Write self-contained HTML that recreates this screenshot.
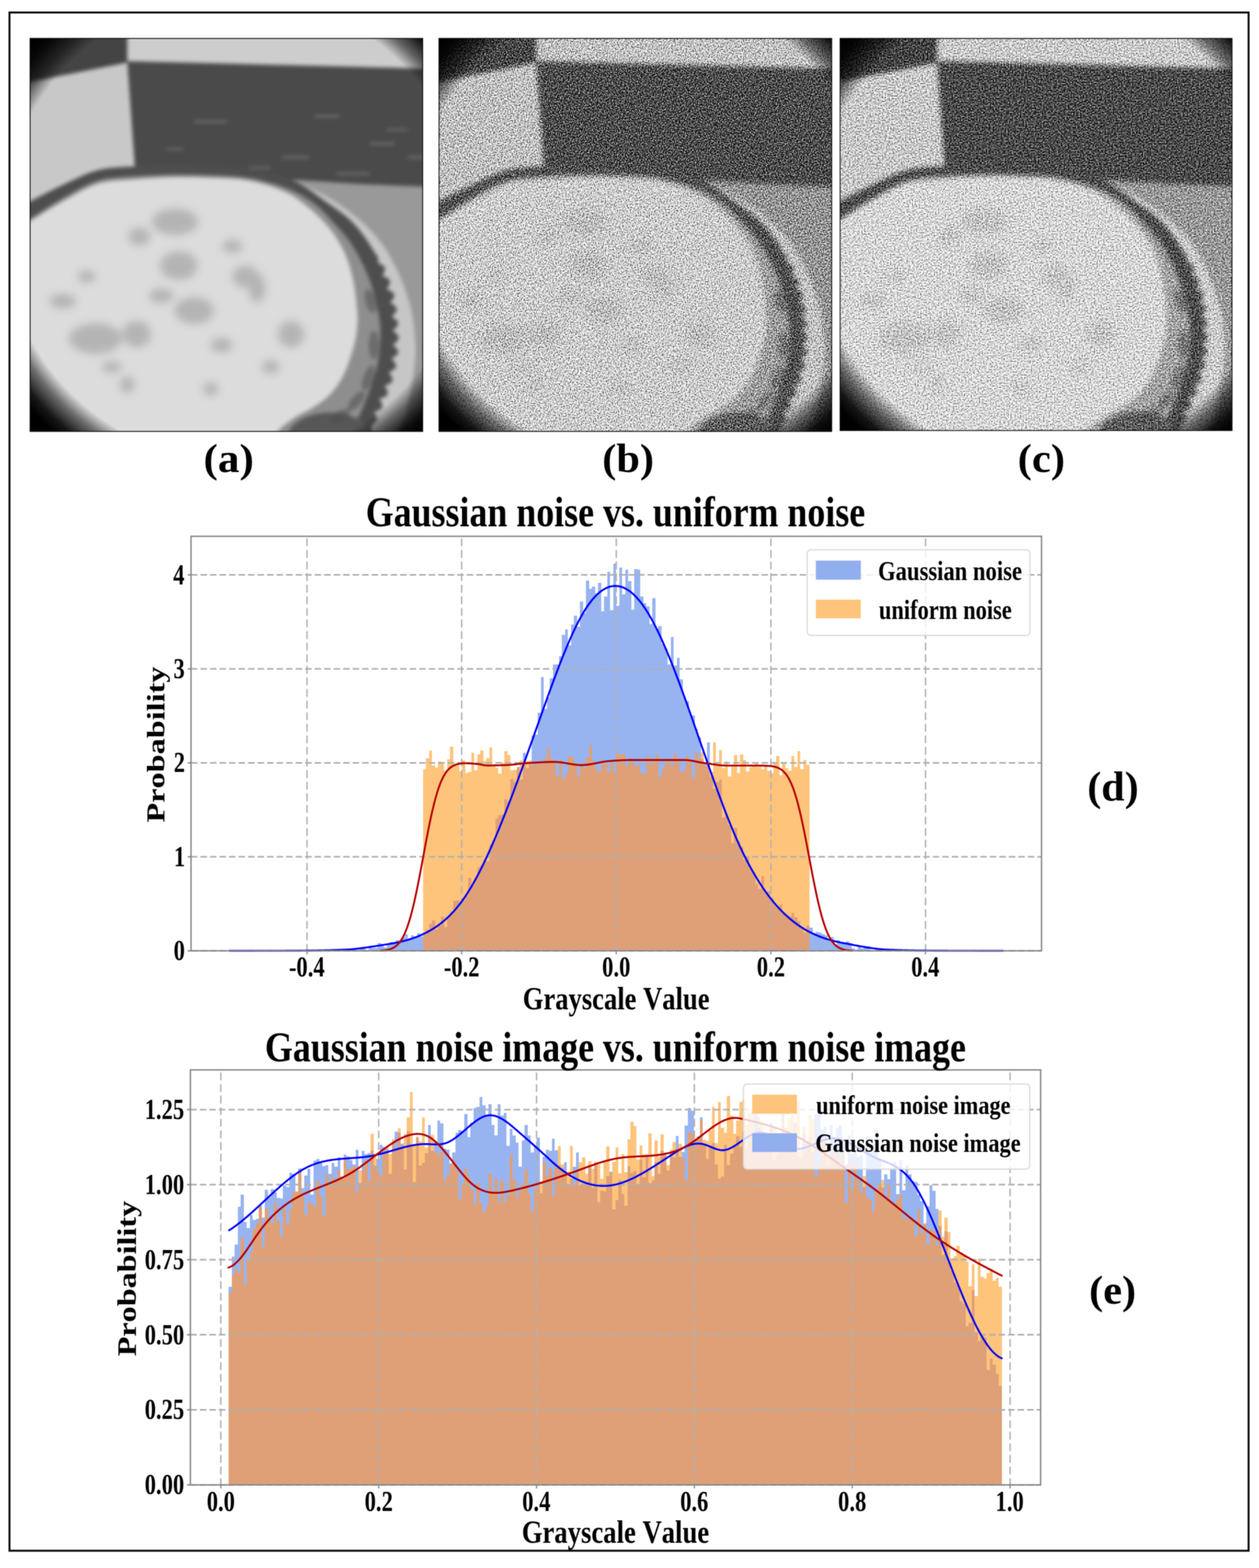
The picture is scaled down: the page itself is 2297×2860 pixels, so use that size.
<!DOCTYPE html><html><head><meta charset="utf-8"><title>Gaussian noise vs. uniform noise</title>
<style>html,body{margin:0;padding:0;background:#fff;width:2297px;height:2860px;overflow:hidden}svg{display:block}text{font-family:'Liberation Serif', 'Times New Roman', serif;fill:#000;font-kerning:none;font-variant-ligatures:none}</style></head><body>
<svg xmlns="http://www.w3.org/2000/svg" width="2297" height="2860" viewBox="0 0 2297 2860">
<defs>
<radialGradient id="vig" gradientUnits="userSpaceOnUse" cx="375" cy="345" r="500">
<stop offset="0" stop-color="#000" stop-opacity="0"/>
<stop offset="0.85" stop-color="#000" stop-opacity="0"/>
<stop offset="0.9" stop-color="#000" stop-opacity="0.5"/>
<stop offset="0.96" stop-color="#000" stop-opacity="0.9"/>
<stop offset="1" stop-color="#000" stop-opacity="1"/>
</radialGradient>
<filter id="blurA" x="-5%" y="-5%" width="110%" height="110%" color-interpolation-filters="sRGB">
<feGaussianBlur stdDeviation="3.5"/>
</filter>
<filter id="blotblur" x="-50%" y="-50%" width="200%" height="200%" color-interpolation-filters="sRGB">
<feGaussianBlur stdDeviation="7"/>
</filter>
<filter id="noiseB" x="-5%" y="-5%" width="110%" height="110%" color-interpolation-filters="sRGB">
<feGaussianBlur in="SourceGraphic" stdDeviation="4.5" result="bl"/>
<feTurbulence type="fractalNoise" baseFrequency="0.5" numOctaves="2" seed="3" result="t"/>
<feColorMatrix in="t" type="matrix" values="1 0 0 0 0 1 0 0 0 0 1 0 0 0 0 0 0 0 0 1" result="g"/>
<feComposite in="bl" in2="g" operator="arithmetic" k1="0" k2="1" k3="2.4" k4="-1.2"/>
</filter>
<filter id="noiseC" x="-5%" y="-5%" width="110%" height="110%" color-interpolation-filters="sRGB">
<feGaussianBlur in="SourceGraphic" stdDeviation="4.5" result="bl"/>
<feTurbulence type="fractalNoise" baseFrequency="0.4" numOctaves="2" seed="11" result="t"/>
<feColorMatrix in="t" type="matrix" values="1 0 0 0 0 1 0 0 0 0 1 0 0 0 0 0 0 0 0 1" result="g"/>
<feComposite in="bl" in2="g" operator="arithmetic" k1="0" k2="1" k3="1.6" k4="-0.8"/>
</filter>
<filter id="soft" x="0" y="0" width="2297" height="2860" filterUnits="userSpaceOnUse" color-interpolation-filters="sRGB">
<feConvolveMatrix order="3" kernelMatrix="1 2 1 2 4 2 1 2 1" divisor="16" edgeMode="duplicate"/>
</filter>
</defs>
<g filter="url(#soft)">
<rect width="2297" height="2860" fill="#fff"/>
<rect x="17.3" y="22.8" width="2260.7" height="2805.7" fill="none" stroke="#0a0a0a" stroke-width="3.6"/>
<g transform="translate(54.3 69.5) scale(0.99944 1.00000)">
<clipPath id="clippa"><rect x="0" y="0" width="718" height="718"/></clipPath>
<g clip-path="url(#clippa)">
<g filter="url(#blurA)">
<rect x="-30" y="-30" width="780" height="780" fill="#999999"/>
<path d="M-30 -30 L200 -30 L181 44 L0 80 L-30 86Z" fill="#444444"/>
<path d="M-30 86 L0 80 L181 44 L194 240 L0 312 L-30 322Z" fill="#c8c8c8"/>
<path d="M178 -30 L750 -30 L750 60 L700 57 L178 43Z" fill="#cdcdcd"/>
<path d="M178 42 L700 55 L750 58 L750 272 L600 266 L477 258 L192 238Z" fill="#4a4a4a"/>
<rect x="300" y="150" width="60" height="5" fill="#6a6a6a"/>
<rect x="460" y="215" width="50" height="5" fill="#6a6a6a"/>
<rect x="620" y="190" width="45" height="5" fill="#6a6a6a"/>
<rect x="690" y="215" width="40" height="5" fill="#6a6a6a"/>
<rect x="520" y="140" width="45" height="5" fill="#6a6a6a"/>
<rect x="560" y="245" width="60" height="5" fill="#6a6a6a"/>
<rect x="400" y="235" width="40" height="4" fill="#6a6a6a"/>
<rect x="650" y="165" width="40" height="4" fill="#6a6a6a"/>
<rect x="250" y="200" width="30" height="4" fill="#6a6a6a"/>
<path d="M470 256 C481.67 261.33 518.33 275.67 540 288 C561.67 300.33 582.5 315 600 330 C617.5 345 632 359.67 645 378 C658 396.33 669.33 419.67 678 440 C686.67 460.33 692.67 480.67 697 500 C701.33 519.33 703 540.33 704 556 C705 571.67 704.33 580 703 594 C701.67 608 698.83 624.33 696 640 C693.17 655.67 690 675 686 688 C682 701 675.5 708.5 672 718 C668.5 727.5 666.17 740.5 665 745 L300 760 L300 256Z" fill="#c6c6c6"/>
<path d="M-10 302 L-9.79 301.92 L-9.63 301.88 L-9.52 301.87 L-9.44 301.87 L-9.38 301.89 L-9.31 301.91 L-9.23 301.93 L-9.12 301.94 L-8.96 301.92 L-8.75 301.88 L-8.46 301.79 L-8.08 301.66 L-7.59 301.48 L-6.99 301.24 L-6.25 300.92 L-5.36 300.53 L-4.3 300.05 L-3.07 299.47 L-1.64 298.79 L0 298 L1.87 297.08 L3.96 296.04 L6.25 294.88 L8.74 293.62 L11.39 292.26 L14.2 290.82 L17.14 289.3 L20.21 287.73 L23.37 286.1 L26.62 284.44 L29.94 282.74 L33.31 281.03 L36.71 279.31 L40.13 277.6 L43.55 275.9 L46.94 274.22 L50.31 272.59 L53.61 271 L56.85 269.46 L60 268 L63.11 266.56 L66.23 265.09 L69.36 263.6 L72.51 262.09 L75.67 260.57 L78.84 259.05 L82.02 257.53 L85.22 256.02 L88.42 254.53 L91.62 253.06 L94.84 251.62 L98.06 250.22 L101.29 248.85 L104.53 247.54 L107.77 246.27 L111.01 245.07 L114.25 243.94 L117.5 242.88 L120.75 241.9 L124 241 L127.25 240.19 L130.5 239.47 L133.75 238.82 L137.01 238.24 L140.27 237.73 L143.53 237.27 L146.79 236.87 L150.06 236.52 L153.34 236.21 L156.62 235.94 L159.92 235.7 L163.22 235.48 L166.52 235.28 L169.84 235.1 L173.17 234.93 L176.51 234.76 L179.86 234.59 L183.23 234.41 L186.61 234.21 L190 234 L193.41 233.78 L196.84 233.58 L200.28 233.39 L203.74 233.22 L207.22 233.05 L210.71 232.91 L214.2 232.77 L217.71 232.65 L221.23 232.54 L224.75 232.44 L228.28 232.35 L231.81 232.27 L235.34 232.21 L238.87 232.15 L242.41 232.1 L245.94 232.06 L249.46 232.04 L252.98 232.02 L256.5 232 L260 232 L263.5 232 L267 232.02 L270.5 232.04 L274 232.08 L277.5 232.12 L281 232.18 L284.5 232.25 L288 232.32 L291.5 232.41 L295 232.5 L298.5 232.6 L302 232.72 L305.5 232.84 L309 232.98 L312.5 233.12 L316 233.28 L319.5 233.44 L323 233.62 L326.5 233.81 L330 234 L333.49 234.2 L336.97 234.38 L340.43 234.57 L343.89 234.75 L347.34 234.94 L350.78 235.13 L354.22 235.33 L357.66 235.54 L361.11 235.76 L364.56 236 L368.02 236.26 L371.5 236.54 L374.98 236.85 L378.49 237.19 L382.01 237.56 L385.55 237.97 L389.12 238.41 L392.72 238.9 L396.34 239.42 L400 240 L403.71 240.6 L407.48 241.21 L411.3 241.84 L415.18 242.48 L419.09 243.14 L423.03 243.82 L426.99 244.54 L430.97 245.28 L434.95 246.06 L438.94 246.88 L442.91 247.73 L446.87 248.64 L450.81 249.6 L454.71 250.61 L458.57 251.67 L462.38 252.8 L466.14 253.99 L469.84 255.26 L473.46 256.59 L477 258 L480.48 259.5 L483.92 261.1 L487.31 262.8 L490.67 264.58 L493.99 266.43 L497.28 268.35 L500.52 270.33 L503.74 272.37 L506.92 274.45 L510.06 276.56 L513.18 278.71 L516.26 280.87 L519.32 283.05 L522.35 285.23 L525.35 287.41 L528.33 289.58 L531.28 291.74 L534.21 293.86 L537.11 295.95 L540 298 L542.86 300.01 L545.7 301.99 L548.51 303.94 L551.3 305.88 L554.05 307.8 L556.79 309.72 L559.49 311.64 L562.17 313.56 L564.82 315.49 L567.44 317.44 L570.03 319.41 L572.59 321.4 L575.13 323.43 L577.63 325.49 L580.1 327.6 L582.54 329.76 L584.96 331.97 L587.34 334.25 L589.68 336.59 L592 339 L594.29 341.48 L596.55 344.01 L598.78 346.6 L600.99 349.23 L603.17 351.91 L605.32 354.64 L607.44 357.41 L609.54 360.22 L611.6 363.06 L613.62 365.94 L615.62 368.85 L617.58 371.78 L619.51 374.75 L621.41 377.73 L623.27 380.74 L625.09 383.77 L626.87 386.81 L628.62 389.86 L630.7 392.72 L632.97 395.48 L634.91 398.46 L636.01 401.95 L635.87 406.05 L636.02 410.01 L640.23 412.17 L644.47 414.42 L647.75 417.16 L648.72 420.87 L647.57 425.4 L644.96 430.4 L644.6 434.47 L650.1 436.34 L654.45 438.65 L657.09 441.54 L657.82 445.03 L656.82 449 L654.52 453.27 L651.55 457.59 L655.18 459.72 L659.39 461.58 L662.62 463.7 L664.66 466.1 L665.48 468.76 L665.17 471.6 L663.91 474.54 L661.93 477.49 L659.48 480.39 L657.89 483.01 L661.22 484.75 L664.22 486.58 L666.71 488.52 L668.56 490.55 L669.68 492.69 L670.02 494.9 L669.57 497.2 L668.38 499.57 L666.54 502.01 L664.19 504.52 L661.48 507.11 L662.41 509.37 L665.63 511.42 L668.45 513.56 L670.65 515.8 L672.05 518.14 L672.53 520.57 L672.06 523.06 L670.7 525.61 L668.56 528.18 L665.86 530.74 L662.83 533.27 L664.93 535.57 L667.94 537.85 L670.46 540.16 L672.31 542.49 L673.35 544.83 L673.54 547.15 L672.89 549.45 L671.49 551.7 L669.47 553.88 L667.01 555.98 L664.28 557.99 L663.27 559.98 L665.81 562.09 L668.08 564.2 L669.97 566.29 L671.39 568.35 L672.26 570.37 L672.57 572.34 L672.29 574.25 L671.45 576.07 L670.1 577.82 L668.29 579.48 L666.1 581.06 L663.63 582.57 L660.99 584.02 L661.41 585.93 L663.48 588.14 L665.34 590.36 L666.89 592.57 L668.02 594.74 L668.62 596.86 L668.65 598.89 L668.06 600.79 L666.88 602.57 L665.15 604.21 L662.94 605.72 L660.34 607.1 L657.48 608.4 L655.23 609.82 L657.23 612.34 L659.04 614.86 L660.55 617.33 L661.64 619.71 L662.21 621.97 L662.2 624.06 L661.58 625.98 L660.35 627.71 L658.55 629.26 L656.25 630.63 L653.54 631.85 L650.54 632.93 L647.65 634 L649.47 636.78 L651.11 639.55 L652.42 642.25 L653.29 644.81 L653.61 647.18 L653.33 649.32 L652.41 651.19 L650.87 652.8 L648.75 654.16 L646.15 655.31 L643.17 656.3 L639.95 657.2 L638.63 658.89 L640.3 661.79 L641.77 664.59 L642.92 667.21 L643.63 669.63 L643.83 671.82 L643.45 673.81 L642.46 675.57 L640.9 677.11 L638.83 678.45 L636.31 679.61 L633.47 680.64 L630.41 681.6 L629.24 683.27 L630.94 686 L632.46 688.64 L633.66 691.15 L634.23 693.41 L634.21 695.44 L633.65 697.27 L632.61 698.95 L631.22 700.51 L629.61 702.01 L627.89 703.51 L626.22 705.04 L624.71 706.64 L623.59 708.42 L624.21 710.74 L624.47 713.01 L624.32 715.23 L623.82 717.4 L623.06 719.54 L622.51 721.74 L622.06 723.95 L621.61 726.15 L621.19 728.31 L620.78 730.43 L620.38 732.49 L620.01 734.47 L619.65 736.36 L619.32 738.15 L619.01 739.82 L618.72 741.35 L618.45 742.73 L618.21 743.96 L618 745 L-30 760Z" fill="#4e4e4e"/>
<path d="M-10 334 C-8.33 333.33 -11.67 337 0 330 C11.67 323 39.33 303.67 60 292 C80.67 280.33 102.33 266.67 124 260 C145.67 253.33 167.33 253.83 190 252 C212.67 250.17 236.67 249.33 260 249 C283.33 248.67 306.67 249 330 250 C353.33 251 376.67 251 400 255 C423.33 259 450 266.17 470 274 C490 281.83 505.67 291.33 520 302 C534.33 312.67 544.33 325 556 338 C567.67 351 579.33 363 590 380 C600.67 397 612.33 420 620 440 C627.67 460 632.67 483.33 636 500 C639.33 516.67 640.17 524.33 640 540 C639.83 555.67 638.17 577.33 635 594 C631.83 610.67 626.5 624.33 621 640 C615.5 655.67 607.83 675 602 688 C596.17 701 590 708.5 586 718 C582 727.5 579.33 740.5 578 745 L-30 760Z" fill="#8e8e8e"/>
<ellipse cx="548" cy="735" rx="80" ry="52" fill="#575757"/>
<ellipse cx="622" cy="480" rx="9" ry="22" transform="rotate(-15 622 480)" fill="#4e4e4e" opacity="0.55"/>
<ellipse cx="628" cy="560" rx="9" ry="26" transform="rotate(0 628 560)" fill="#4e4e4e" opacity="0.55"/>
<ellipse cx="618" cy="620" rx="9" ry="24" transform="rotate(20 618 620)" fill="#4e4e4e" opacity="0.55"/>
<ellipse cx="596" cy="662" rx="9" ry="22" transform="rotate(40 596 662)" fill="#4e4e4e" opacity="0.55"/>
<ellipse cx="566" cy="690" rx="10" ry="20" transform="rotate(60 566 690)" fill="#4e4e4e" opacity="0.55"/>
<path d="M-10 338 C-8.33 337.33 -11.67 340.67 0 334 C11.67 327.33 39.33 309.33 60 298 C80.67 286.67 102.33 272.67 124 266 C145.67 259.33 167.33 260 190 258 C212.67 256 236.67 254.5 260 254 C283.33 253.5 306.67 254 330 255 C353.33 256 377.5 255.83 400 260 C422.5 264.17 446.67 271.67 465 280 C483.33 288.33 496.17 298.67 510 310 C523.83 321.33 537.17 334.33 548 348 C558.83 361.67 568 376.67 575 392 C582 407.33 586.33 423.67 590 440 C593.67 456.33 595.67 476.33 597 490 C598.33 503.67 598.83 510.33 598 522 C597.17 533.67 596 545 592 560 C588 575 581.33 597 574 612 C566.67 627 557.83 639.5 548 650 C538.17 660.5 525.67 668 515 675 C504.33 682 494.5 684.83 484 692 C473.5 699.17 459.33 709.17 452 718 C444.67 726.83 442 740.5 440 745 L-30 760Z" fill="#dcdcdc"/>
<g filter="url(#blotblur)">
<ellipse cx="265" cy="335" rx="42" ry="24" fill="#b4b4b4"/>
<ellipse cx="200" cy="362" rx="20" ry="16" fill="#b4b4b4"/>
<ellipse cx="272" cy="415" rx="34" ry="26" fill="#b4b4b4"/>
<ellipse cx="104" cy="435" rx="16" ry="11" fill="#b4b4b4"/>
<ellipse cx="394" cy="435" rx="24" ry="20" fill="#b4b4b4"/>
<ellipse cx="120" cy="548" rx="48" ry="28" fill="#b4b4b4"/>
<ellipse cx="195" cy="540" rx="26" ry="24" fill="#b4b4b4"/>
<ellipse cx="300" cy="497" rx="36" ry="24" fill="#b4b4b4"/>
<ellipse cx="415" cy="456" rx="15" ry="26" fill="#b4b4b4"/>
<ellipse cx="477" cy="540" rx="24" ry="24" fill="#b4b4b4"/>
<ellipse cx="178" cy="632" rx="13" ry="15" fill="#b4b4b4"/>
<ellipse cx="60" cy="480" rx="24" ry="13" fill="#b4b4b4"/>
<ellipse cx="350" cy="560" rx="20" ry="13" fill="#b4b4b4"/>
<ellipse cx="240" cy="470" rx="22" ry="13" fill="#b4b4b4"/>
<ellipse cx="330" cy="640" rx="14" ry="12" fill="#b4b4b4"/>
<ellipse cx="150" cy="600" rx="18" ry="10" fill="#b4b4b4"/>
<ellipse cx="440" cy="600" rx="16" ry="12" fill="#b4b4b4"/>
<ellipse cx="370" cy="380" rx="18" ry="12" fill="#b4b4b4"/>
</g>
</g>
<rect x="0" y="0" width="718" height="718" fill="url(#vig)"/>
</g>
<rect x="0.7" y="0.7" width="716.6" height="716.6" fill="none" stroke="#111" stroke-width="1.6"/>
</g>
<g transform="translate(800.3 69.5) scale(0.99972 1.00000)">
<clipPath id="clippb"><rect x="0" y="0" width="718" height="718"/></clipPath>
<g clip-path="url(#clippb)">
<g filter="url(#noiseB)">
<rect x="-30" y="-30" width="780" height="780" fill="#959595"/>
<path d="M-30 -30 L200 -30 L181 44 L0 80 L-30 86Z" fill="#404040"/>
<path d="M-30 86 L0 80 L181 44 L194 240 L0 312 L-30 322Z" fill="#c8c8c8"/>
<path d="M178 -30 L750 -30 L750 60 L700 57 L178 43Z" fill="#cacaca"/>
<path d="M178 42 L700 55 L750 58 L750 272 L600 266 L477 258 L192 238Z" fill="#474747"/>
<rect x="300" y="150" width="60" height="5" fill="#505050"/>
<rect x="460" y="215" width="50" height="5" fill="#505050"/>
<rect x="620" y="190" width="45" height="5" fill="#505050"/>
<rect x="690" y="215" width="40" height="5" fill="#505050"/>
<rect x="520" y="140" width="45" height="5" fill="#505050"/>
<rect x="560" y="245" width="60" height="5" fill="#505050"/>
<rect x="400" y="235" width="40" height="4" fill="#505050"/>
<rect x="650" y="165" width="40" height="4" fill="#505050"/>
<rect x="250" y="200" width="30" height="4" fill="#505050"/>
<path d="M470 256 C481.67 261.33 518.33 275.67 540 288 C561.67 300.33 582.5 315 600 330 C617.5 345 632 359.67 645 378 C658 396.33 669.33 419.67 678 440 C686.67 460.33 692.67 480.67 697 500 C701.33 519.33 703 540.33 704 556 C705 571.67 704.33 580 703 594 C701.67 608 698.83 624.33 696 640 C693.17 655.67 690 675 686 688 C682 701 675.5 708.5 672 718 C668.5 727.5 666.17 740.5 665 745 L300 760 L300 256Z" fill="#cdcdcd"/>
<path d="M-10 302 L-9.79 301.92 L-9.63 301.88 L-9.52 301.87 L-9.44 301.87 L-9.38 301.89 L-9.31 301.91 L-9.23 301.93 L-9.12 301.94 L-8.96 301.92 L-8.75 301.88 L-8.46 301.79 L-8.08 301.66 L-7.59 301.48 L-6.99 301.24 L-6.25 300.92 L-5.36 300.53 L-4.3 300.05 L-3.07 299.47 L-1.64 298.79 L0 298 L1.87 297.08 L3.96 296.04 L6.25 294.88 L8.74 293.62 L11.39 292.26 L14.2 290.82 L17.14 289.3 L20.21 287.73 L23.37 286.1 L26.62 284.44 L29.94 282.74 L33.31 281.03 L36.71 279.31 L40.13 277.6 L43.55 275.9 L46.94 274.22 L50.31 272.59 L53.61 271 L56.85 269.46 L60 268 L63.11 266.56 L66.23 265.09 L69.36 263.6 L72.51 262.09 L75.67 260.57 L78.84 259.05 L82.02 257.53 L85.22 256.02 L88.42 254.53 L91.62 253.06 L94.84 251.62 L98.06 250.22 L101.29 248.85 L104.53 247.54 L107.77 246.27 L111.01 245.07 L114.25 243.94 L117.5 242.88 L120.75 241.9 L124 241 L127.25 240.19 L130.5 239.47 L133.75 238.82 L137.01 238.24 L140.27 237.73 L143.53 237.27 L146.79 236.87 L150.06 236.52 L153.34 236.21 L156.62 235.94 L159.92 235.7 L163.22 235.48 L166.52 235.28 L169.84 235.1 L173.17 234.93 L176.51 234.76 L179.86 234.59 L183.23 234.41 L186.61 234.21 L190 234 L193.41 233.78 L196.84 233.58 L200.28 233.39 L203.74 233.22 L207.22 233.05 L210.71 232.91 L214.2 232.77 L217.71 232.65 L221.23 232.54 L224.75 232.44 L228.28 232.35 L231.81 232.27 L235.34 232.21 L238.87 232.15 L242.41 232.1 L245.94 232.06 L249.46 232.04 L252.98 232.02 L256.5 232 L260 232 L263.5 232 L267 232.02 L270.5 232.04 L274 232.08 L277.5 232.12 L281 232.18 L284.5 232.25 L288 232.32 L291.5 232.41 L295 232.5 L298.5 232.6 L302 232.72 L305.5 232.84 L309 232.98 L312.5 233.12 L316 233.28 L319.5 233.44 L323 233.62 L326.5 233.81 L330 234 L333.49 234.2 L336.97 234.38 L340.43 234.57 L343.89 234.75 L347.34 234.94 L350.78 235.13 L354.22 235.33 L357.66 235.54 L361.11 235.76 L364.56 236 L368.02 236.26 L371.5 236.54 L374.98 236.85 L378.49 237.19 L382.01 237.56 L385.55 237.97 L389.12 238.41 L392.72 238.9 L396.34 239.42 L400 240 L403.71 240.6 L407.48 241.21 L411.3 241.84 L415.18 242.48 L419.09 243.14 L423.03 243.82 L426.99 244.54 L430.97 245.28 L434.95 246.06 L438.94 246.88 L442.91 247.73 L446.87 248.64 L450.81 249.6 L454.71 250.61 L458.57 251.67 L462.38 252.8 L466.14 253.99 L469.84 255.26 L473.46 256.59 L477 258 L480.48 259.5 L483.92 261.1 L487.31 262.8 L490.67 264.58 L493.99 266.43 L497.28 268.35 L500.52 270.33 L503.74 272.37 L506.92 274.45 L510.06 276.56 L513.18 278.71 L516.26 280.87 L519.32 283.05 L522.35 285.23 L525.35 287.41 L528.33 289.58 L531.28 291.74 L534.21 293.86 L537.11 295.95 L540 298 L542.86 300.01 L545.7 301.99 L548.51 303.94 L551.3 305.88 L554.05 307.8 L556.79 309.72 L559.49 311.64 L562.17 313.56 L564.82 315.49 L567.44 317.44 L570.03 319.41 L572.59 321.4 L575.13 323.43 L577.63 325.49 L580.1 327.6 L582.54 329.76 L584.96 331.97 L587.34 334.25 L589.68 336.59 L592 339 L594.29 341.48 L596.55 344.01 L598.78 346.6 L600.99 349.23 L603.17 351.91 L605.32 354.64 L607.44 357.41 L609.54 360.22 L611.6 363.06 L613.62 365.94 L615.62 368.85 L617.58 371.78 L619.51 374.75 L621.41 377.73 L623.27 380.74 L625.09 383.77 L626.87 386.81 L628.62 389.86 L630.7 392.72 L632.97 395.48 L634.91 398.46 L636.01 401.95 L635.87 406.05 L636.02 410.01 L640.23 412.17 L644.47 414.42 L647.75 417.16 L648.72 420.87 L647.57 425.4 L644.96 430.4 L644.6 434.47 L650.1 436.34 L654.45 438.65 L657.09 441.54 L657.82 445.03 L656.82 449 L654.52 453.27 L651.55 457.59 L655.18 459.72 L659.39 461.58 L662.62 463.7 L664.66 466.1 L665.48 468.76 L665.17 471.6 L663.91 474.54 L661.93 477.49 L659.48 480.39 L657.89 483.01 L661.22 484.75 L664.22 486.58 L666.71 488.52 L668.56 490.55 L669.68 492.69 L670.02 494.9 L669.57 497.2 L668.38 499.57 L666.54 502.01 L664.19 504.52 L661.48 507.11 L662.41 509.37 L665.63 511.42 L668.45 513.56 L670.65 515.8 L672.05 518.14 L672.53 520.57 L672.06 523.06 L670.7 525.61 L668.56 528.18 L665.86 530.74 L662.83 533.27 L664.93 535.57 L667.94 537.85 L670.46 540.16 L672.31 542.49 L673.35 544.83 L673.54 547.15 L672.89 549.45 L671.49 551.7 L669.47 553.88 L667.01 555.98 L664.28 557.99 L663.27 559.98 L665.81 562.09 L668.08 564.2 L669.97 566.29 L671.39 568.35 L672.26 570.37 L672.57 572.34 L672.29 574.25 L671.45 576.07 L670.1 577.82 L668.29 579.48 L666.1 581.06 L663.63 582.57 L660.99 584.02 L661.41 585.93 L663.48 588.14 L665.34 590.36 L666.89 592.57 L668.02 594.74 L668.62 596.86 L668.65 598.89 L668.06 600.79 L666.88 602.57 L665.15 604.21 L662.94 605.72 L660.34 607.1 L657.48 608.4 L655.23 609.82 L657.23 612.34 L659.04 614.86 L660.55 617.33 L661.64 619.71 L662.21 621.97 L662.2 624.06 L661.58 625.98 L660.35 627.71 L658.55 629.26 L656.25 630.63 L653.54 631.85 L650.54 632.93 L647.65 634 L649.47 636.78 L651.11 639.55 L652.42 642.25 L653.29 644.81 L653.61 647.18 L653.33 649.32 L652.41 651.19 L650.87 652.8 L648.75 654.16 L646.15 655.31 L643.17 656.3 L639.95 657.2 L638.63 658.89 L640.3 661.79 L641.77 664.59 L642.92 667.21 L643.63 669.63 L643.83 671.82 L643.45 673.81 L642.46 675.57 L640.9 677.11 L638.83 678.45 L636.31 679.61 L633.47 680.64 L630.41 681.6 L629.24 683.27 L630.94 686 L632.46 688.64 L633.66 691.15 L634.23 693.41 L634.21 695.44 L633.65 697.27 L632.61 698.95 L631.22 700.51 L629.61 702.01 L627.89 703.51 L626.22 705.04 L624.71 706.64 L623.59 708.42 L624.21 710.74 L624.47 713.01 L624.32 715.23 L623.82 717.4 L623.06 719.54 L622.51 721.74 L622.06 723.95 L621.61 726.15 L621.19 728.31 L620.78 730.43 L620.38 732.49 L620.01 734.47 L619.65 736.36 L619.32 738.15 L619.01 739.82 L618.72 741.35 L618.45 742.73 L618.21 743.96 L618 745 L-30 760Z" fill="#4a4a4a"/>
<path d="M-10 334 C-8.33 333.33 -11.67 337 0 330 C11.67 323 39.33 303.67 60 292 C80.67 280.33 102.33 266.67 124 260 C145.67 253.33 167.33 253.83 190 252 C212.67 250.17 236.67 249.33 260 249 C283.33 248.67 306.67 249 330 250 C353.33 251 376.67 251 400 255 C423.33 259 450 266.17 470 274 C490 281.83 505.67 291.33 520 302 C534.33 312.67 544.33 325 556 338 C567.67 351 579.33 363 590 380 C600.67 397 612.33 420 620 440 C627.67 460 632.67 483.33 636 500 C639.33 516.67 640.17 524.33 640 540 C639.83 555.67 638.17 577.33 635 594 C631.83 610.67 626.5 624.33 621 640 C615.5 655.67 607.83 675 602 688 C596.17 701 590 708.5 586 718 C582 727.5 579.33 740.5 578 745 L-30 760Z" fill="#a0a0a0"/>
<ellipse cx="548" cy="735" rx="80" ry="52" fill="#5a5a5a"/>
<ellipse cx="622" cy="480" rx="9" ry="22" transform="rotate(-15 622 480)" fill="#4a4a4a" opacity="0.55"/>
<ellipse cx="628" cy="560" rx="9" ry="26" transform="rotate(0 628 560)" fill="#4a4a4a" opacity="0.55"/>
<ellipse cx="618" cy="620" rx="9" ry="24" transform="rotate(20 618 620)" fill="#4a4a4a" opacity="0.55"/>
<ellipse cx="596" cy="662" rx="9" ry="22" transform="rotate(40 596 662)" fill="#4a4a4a" opacity="0.55"/>
<ellipse cx="566" cy="690" rx="10" ry="20" transform="rotate(60 566 690)" fill="#4a4a4a" opacity="0.55"/>
<path d="M-10 338 C-8.33 337.33 -11.67 340.67 0 334 C11.67 327.33 39.33 309.33 60 298 C80.67 286.67 102.33 272.67 124 266 C145.67 259.33 167.33 260 190 258 C212.67 256 236.67 254.5 260 254 C283.33 253.5 306.67 254 330 255 C353.33 256 377.5 255.83 400 260 C422.5 264.17 446.67 271.67 465 280 C483.33 288.33 496.17 298.67 510 310 C523.83 321.33 537.17 334.33 548 348 C558.83 361.67 568 376.67 575 392 C582 407.33 586.33 423.67 590 440 C593.67 456.33 595.67 476.33 597 490 C598.33 503.67 598.83 510.33 598 522 C597.17 533.67 596 545 592 560 C588 575 581.33 597 574 612 C566.67 627 557.83 639.5 548 650 C538.17 660.5 525.67 668 515 675 C504.33 682 494.5 684.83 484 692 C473.5 699.17 459.33 709.17 452 718 C444.67 726.83 442 740.5 440 745 L-30 760Z" fill="#d8d8d8"/>
<g filter="url(#blotblur)">
<ellipse cx="265" cy="335" rx="42" ry="24" fill="#c4c4c4"/>
<ellipse cx="200" cy="362" rx="20" ry="16" fill="#c4c4c4"/>
<ellipse cx="272" cy="415" rx="34" ry="26" fill="#c4c4c4"/>
<ellipse cx="104" cy="435" rx="16" ry="11" fill="#c4c4c4"/>
<ellipse cx="394" cy="435" rx="24" ry="20" fill="#c4c4c4"/>
<ellipse cx="120" cy="548" rx="48" ry="28" fill="#c4c4c4"/>
<ellipse cx="195" cy="540" rx="26" ry="24" fill="#c4c4c4"/>
<ellipse cx="300" cy="497" rx="36" ry="24" fill="#c4c4c4"/>
<ellipse cx="415" cy="456" rx="15" ry="26" fill="#c4c4c4"/>
<ellipse cx="477" cy="540" rx="24" ry="24" fill="#c4c4c4"/>
<ellipse cx="178" cy="632" rx="13" ry="15" fill="#c4c4c4"/>
<ellipse cx="60" cy="480" rx="24" ry="13" fill="#c4c4c4"/>
<ellipse cx="350" cy="560" rx="20" ry="13" fill="#c4c4c4"/>
<ellipse cx="240" cy="470" rx="22" ry="13" fill="#c4c4c4"/>
<ellipse cx="330" cy="640" rx="14" ry="12" fill="#c4c4c4"/>
<ellipse cx="150" cy="600" rx="18" ry="10" fill="#c4c4c4"/>
<ellipse cx="440" cy="600" rx="16" ry="12" fill="#c4c4c4"/>
<ellipse cx="370" cy="380" rx="18" ry="12" fill="#c4c4c4"/>
</g>
</g>
<rect x="0" y="0" width="718" height="718" fill="url(#vig)"/>
</g>
<rect x="0.7" y="0.7" width="716.6" height="716.6" fill="none" stroke="#111" stroke-width="1.6"/>
</g>
<g transform="translate(1532 69.5) scale(0.99777 0.99791)">
<clipPath id="clippc"><rect x="0" y="0" width="718" height="718"/></clipPath>
<g clip-path="url(#clippc)">
<g filter="url(#noiseC)">
<rect x="-30" y="-30" width="780" height="780" fill="#989898"/>
<path d="M-30 -30 L200 -30 L181 44 L0 80 L-30 86Z" fill="#424242"/>
<path d="M-30 86 L0 80 L181 44 L194 240 L0 312 L-30 322Z" fill="#cacaca"/>
<path d="M178 -30 L750 -30 L750 60 L700 57 L178 43Z" fill="#cccccc"/>
<path d="M178 42 L700 55 L750 58 L750 272 L600 266 L477 258 L192 238Z" fill="#4a4a4a"/>
<rect x="300" y="150" width="60" height="5" fill="#525252"/>
<rect x="460" y="215" width="50" height="5" fill="#525252"/>
<rect x="620" y="190" width="45" height="5" fill="#525252"/>
<rect x="690" y="215" width="40" height="5" fill="#525252"/>
<rect x="520" y="140" width="45" height="5" fill="#525252"/>
<rect x="560" y="245" width="60" height="5" fill="#525252"/>
<rect x="400" y="235" width="40" height="4" fill="#525252"/>
<rect x="650" y="165" width="40" height="4" fill="#525252"/>
<rect x="250" y="200" width="30" height="4" fill="#525252"/>
<path d="M470 256 C481.67 261.33 518.33 275.67 540 288 C561.67 300.33 582.5 315 600 330 C617.5 345 632 359.67 645 378 C658 396.33 669.33 419.67 678 440 C686.67 460.33 692.67 480.67 697 500 C701.33 519.33 703 540.33 704 556 C705 571.67 704.33 580 703 594 C701.67 608 698.83 624.33 696 640 C693.17 655.67 690 675 686 688 C682 701 675.5 708.5 672 718 C668.5 727.5 666.17 740.5 665 745 L300 760 L300 256Z" fill="#cfcfcf"/>
<path d="M-10 302 L-9.79 301.92 L-9.63 301.88 L-9.52 301.87 L-9.44 301.87 L-9.38 301.89 L-9.31 301.91 L-9.23 301.93 L-9.12 301.94 L-8.96 301.92 L-8.75 301.88 L-8.46 301.79 L-8.08 301.66 L-7.59 301.48 L-6.99 301.24 L-6.25 300.92 L-5.36 300.53 L-4.3 300.05 L-3.07 299.47 L-1.64 298.79 L0 298 L1.87 297.08 L3.96 296.04 L6.25 294.88 L8.74 293.62 L11.39 292.26 L14.2 290.82 L17.14 289.3 L20.21 287.73 L23.37 286.1 L26.62 284.44 L29.94 282.74 L33.31 281.03 L36.71 279.31 L40.13 277.6 L43.55 275.9 L46.94 274.22 L50.31 272.59 L53.61 271 L56.85 269.46 L60 268 L63.11 266.56 L66.23 265.09 L69.36 263.6 L72.51 262.09 L75.67 260.57 L78.84 259.05 L82.02 257.53 L85.22 256.02 L88.42 254.53 L91.62 253.06 L94.84 251.62 L98.06 250.22 L101.29 248.85 L104.53 247.54 L107.77 246.27 L111.01 245.07 L114.25 243.94 L117.5 242.88 L120.75 241.9 L124 241 L127.25 240.19 L130.5 239.47 L133.75 238.82 L137.01 238.24 L140.27 237.73 L143.53 237.27 L146.79 236.87 L150.06 236.52 L153.34 236.21 L156.62 235.94 L159.92 235.7 L163.22 235.48 L166.52 235.28 L169.84 235.1 L173.17 234.93 L176.51 234.76 L179.86 234.59 L183.23 234.41 L186.61 234.21 L190 234 L193.41 233.78 L196.84 233.58 L200.28 233.39 L203.74 233.22 L207.22 233.05 L210.71 232.91 L214.2 232.77 L217.71 232.65 L221.23 232.54 L224.75 232.44 L228.28 232.35 L231.81 232.27 L235.34 232.21 L238.87 232.15 L242.41 232.1 L245.94 232.06 L249.46 232.04 L252.98 232.02 L256.5 232 L260 232 L263.5 232 L267 232.02 L270.5 232.04 L274 232.08 L277.5 232.12 L281 232.18 L284.5 232.25 L288 232.32 L291.5 232.41 L295 232.5 L298.5 232.6 L302 232.72 L305.5 232.84 L309 232.98 L312.5 233.12 L316 233.28 L319.5 233.44 L323 233.62 L326.5 233.81 L330 234 L333.49 234.2 L336.97 234.38 L340.43 234.57 L343.89 234.75 L347.34 234.94 L350.78 235.13 L354.22 235.33 L357.66 235.54 L361.11 235.76 L364.56 236 L368.02 236.26 L371.5 236.54 L374.98 236.85 L378.49 237.19 L382.01 237.56 L385.55 237.97 L389.12 238.41 L392.72 238.9 L396.34 239.42 L400 240 L403.71 240.6 L407.48 241.21 L411.3 241.84 L415.18 242.48 L419.09 243.14 L423.03 243.82 L426.99 244.54 L430.97 245.28 L434.95 246.06 L438.94 246.88 L442.91 247.73 L446.87 248.64 L450.81 249.6 L454.71 250.61 L458.57 251.67 L462.38 252.8 L466.14 253.99 L469.84 255.26 L473.46 256.59 L477 258 L480.48 259.5 L483.92 261.1 L487.31 262.8 L490.67 264.58 L493.99 266.43 L497.28 268.35 L500.52 270.33 L503.74 272.37 L506.92 274.45 L510.06 276.56 L513.18 278.71 L516.26 280.87 L519.32 283.05 L522.35 285.23 L525.35 287.41 L528.33 289.58 L531.28 291.74 L534.21 293.86 L537.11 295.95 L540 298 L542.86 300.01 L545.7 301.99 L548.51 303.94 L551.3 305.88 L554.05 307.8 L556.79 309.72 L559.49 311.64 L562.17 313.56 L564.82 315.49 L567.44 317.44 L570.03 319.41 L572.59 321.4 L575.13 323.43 L577.63 325.49 L580.1 327.6 L582.54 329.76 L584.96 331.97 L587.34 334.25 L589.68 336.59 L592 339 L594.29 341.48 L596.55 344.01 L598.78 346.6 L600.99 349.23 L603.17 351.91 L605.32 354.64 L607.44 357.41 L609.54 360.22 L611.6 363.06 L613.62 365.94 L615.62 368.85 L617.58 371.78 L619.51 374.75 L621.41 377.73 L623.27 380.74 L625.09 383.77 L626.87 386.81 L628.62 389.86 L630.7 392.72 L632.97 395.48 L634.91 398.46 L636.01 401.95 L635.87 406.05 L636.02 410.01 L640.23 412.17 L644.47 414.42 L647.75 417.16 L648.72 420.87 L647.57 425.4 L644.96 430.4 L644.6 434.47 L650.1 436.34 L654.45 438.65 L657.09 441.54 L657.82 445.03 L656.82 449 L654.52 453.27 L651.55 457.59 L655.18 459.72 L659.39 461.58 L662.62 463.7 L664.66 466.1 L665.48 468.76 L665.17 471.6 L663.91 474.54 L661.93 477.49 L659.48 480.39 L657.89 483.01 L661.22 484.75 L664.22 486.58 L666.71 488.52 L668.56 490.55 L669.68 492.69 L670.02 494.9 L669.57 497.2 L668.38 499.57 L666.54 502.01 L664.19 504.52 L661.48 507.11 L662.41 509.37 L665.63 511.42 L668.45 513.56 L670.65 515.8 L672.05 518.14 L672.53 520.57 L672.06 523.06 L670.7 525.61 L668.56 528.18 L665.86 530.74 L662.83 533.27 L664.93 535.57 L667.94 537.85 L670.46 540.16 L672.31 542.49 L673.35 544.83 L673.54 547.15 L672.89 549.45 L671.49 551.7 L669.47 553.88 L667.01 555.98 L664.28 557.99 L663.27 559.98 L665.81 562.09 L668.08 564.2 L669.97 566.29 L671.39 568.35 L672.26 570.37 L672.57 572.34 L672.29 574.25 L671.45 576.07 L670.1 577.82 L668.29 579.48 L666.1 581.06 L663.63 582.57 L660.99 584.02 L661.41 585.93 L663.48 588.14 L665.34 590.36 L666.89 592.57 L668.02 594.74 L668.62 596.86 L668.65 598.89 L668.06 600.79 L666.88 602.57 L665.15 604.21 L662.94 605.72 L660.34 607.1 L657.48 608.4 L655.23 609.82 L657.23 612.34 L659.04 614.86 L660.55 617.33 L661.64 619.71 L662.21 621.97 L662.2 624.06 L661.58 625.98 L660.35 627.71 L658.55 629.26 L656.25 630.63 L653.54 631.85 L650.54 632.93 L647.65 634 L649.47 636.78 L651.11 639.55 L652.42 642.25 L653.29 644.81 L653.61 647.18 L653.33 649.32 L652.41 651.19 L650.87 652.8 L648.75 654.16 L646.15 655.31 L643.17 656.3 L639.95 657.2 L638.63 658.89 L640.3 661.79 L641.77 664.59 L642.92 667.21 L643.63 669.63 L643.83 671.82 L643.45 673.81 L642.46 675.57 L640.9 677.11 L638.83 678.45 L636.31 679.61 L633.47 680.64 L630.41 681.6 L629.24 683.27 L630.94 686 L632.46 688.64 L633.66 691.15 L634.23 693.41 L634.21 695.44 L633.65 697.27 L632.61 698.95 L631.22 700.51 L629.61 702.01 L627.89 703.51 L626.22 705.04 L624.71 706.64 L623.59 708.42 L624.21 710.74 L624.47 713.01 L624.32 715.23 L623.82 717.4 L623.06 719.54 L622.51 721.74 L622.06 723.95 L621.61 726.15 L621.19 728.31 L620.78 730.43 L620.38 732.49 L620.01 734.47 L619.65 736.36 L619.32 738.15 L619.01 739.82 L618.72 741.35 L618.45 742.73 L618.21 743.96 L618 745 L-30 760Z" fill="#4c4c4c"/>
<path d="M-10 334 C-8.33 333.33 -11.67 337 0 330 C11.67 323 39.33 303.67 60 292 C80.67 280.33 102.33 266.67 124 260 C145.67 253.33 167.33 253.83 190 252 C212.67 250.17 236.67 249.33 260 249 C283.33 248.67 306.67 249 330 250 C353.33 251 376.67 251 400 255 C423.33 259 450 266.17 470 274 C490 281.83 505.67 291.33 520 302 C534.33 312.67 544.33 325 556 338 C567.67 351 579.33 363 590 380 C600.67 397 612.33 420 620 440 C627.67 460 632.67 483.33 636 500 C639.33 516.67 640.17 524.33 640 540 C639.83 555.67 638.17 577.33 635 594 C631.83 610.67 626.5 624.33 621 640 C615.5 655.67 607.83 675 602 688 C596.17 701 590 708.5 586 718 C582 727.5 579.33 740.5 578 745 L-30 760Z" fill="#a2a2a2"/>
<ellipse cx="548" cy="735" rx="80" ry="52" fill="#5c5c5c"/>
<ellipse cx="622" cy="480" rx="9" ry="22" transform="rotate(-15 622 480)" fill="#4c4c4c" opacity="0.55"/>
<ellipse cx="628" cy="560" rx="9" ry="26" transform="rotate(0 628 560)" fill="#4c4c4c" opacity="0.55"/>
<ellipse cx="618" cy="620" rx="9" ry="24" transform="rotate(20 618 620)" fill="#4c4c4c" opacity="0.55"/>
<ellipse cx="596" cy="662" rx="9" ry="22" transform="rotate(40 596 662)" fill="#4c4c4c" opacity="0.55"/>
<ellipse cx="566" cy="690" rx="10" ry="20" transform="rotate(60 566 690)" fill="#4c4c4c" opacity="0.55"/>
<path d="M-10 338 C-8.33 337.33 -11.67 340.67 0 334 C11.67 327.33 39.33 309.33 60 298 C80.67 286.67 102.33 272.67 124 266 C145.67 259.33 167.33 260 190 258 C212.67 256 236.67 254.5 260 254 C283.33 253.5 306.67 254 330 255 C353.33 256 377.5 255.83 400 260 C422.5 264.17 446.67 271.67 465 280 C483.33 288.33 496.17 298.67 510 310 C523.83 321.33 537.17 334.33 548 348 C558.83 361.67 568 376.67 575 392 C582 407.33 586.33 423.67 590 440 C593.67 456.33 595.67 476.33 597 490 C598.33 503.67 598.83 510.33 598 522 C597.17 533.67 596 545 592 560 C588 575 581.33 597 574 612 C566.67 627 557.83 639.5 548 650 C538.17 660.5 525.67 668 515 675 C504.33 682 494.5 684.83 484 692 C473.5 699.17 459.33 709.17 452 718 C444.67 726.83 442 740.5 440 745 L-30 760Z" fill="#dadada"/>
<g filter="url(#blotblur)">
<ellipse cx="265" cy="335" rx="42" ry="24" fill="#c4c4c4"/>
<ellipse cx="200" cy="362" rx="20" ry="16" fill="#c4c4c4"/>
<ellipse cx="272" cy="415" rx="34" ry="26" fill="#c4c4c4"/>
<ellipse cx="104" cy="435" rx="16" ry="11" fill="#c4c4c4"/>
<ellipse cx="394" cy="435" rx="24" ry="20" fill="#c4c4c4"/>
<ellipse cx="120" cy="548" rx="48" ry="28" fill="#c4c4c4"/>
<ellipse cx="195" cy="540" rx="26" ry="24" fill="#c4c4c4"/>
<ellipse cx="300" cy="497" rx="36" ry="24" fill="#c4c4c4"/>
<ellipse cx="415" cy="456" rx="15" ry="26" fill="#c4c4c4"/>
<ellipse cx="477" cy="540" rx="24" ry="24" fill="#c4c4c4"/>
<ellipse cx="178" cy="632" rx="13" ry="15" fill="#c4c4c4"/>
<ellipse cx="60" cy="480" rx="24" ry="13" fill="#c4c4c4"/>
<ellipse cx="350" cy="560" rx="20" ry="13" fill="#c4c4c4"/>
<ellipse cx="240" cy="470" rx="22" ry="13" fill="#c4c4c4"/>
<ellipse cx="330" cy="640" rx="14" ry="12" fill="#c4c4c4"/>
<ellipse cx="150" cy="600" rx="18" ry="10" fill="#c4c4c4"/>
<ellipse cx="440" cy="600" rx="16" ry="12" fill="#c4c4c4"/>
<ellipse cx="370" cy="380" rx="18" ry="12" fill="#c4c4c4"/>
</g>
</g>
<rect x="0" y="0" width="718" height="718" fill="url(#vig)"/>
</g>
<rect x="0.7" y="0.7" width="716.6" height="716.6" fill="none" stroke="#111" stroke-width="1.6"/>
</g>
<text transform="translate(371.34 861.27) scale(1.0657 1)" font-size="73.89" text-anchor="start" font-weight="bold" >(a)</text>
<text transform="translate(1098.8 861.48) scale(1.0402 1)" font-size="74.33" text-anchor="start" font-weight="bold" >(b)</text>
<text transform="translate(1856.79 861.48) scale(1.0452 1)" font-size="74.33" text-anchor="start" font-weight="bold" >(c)</text>
<text transform="translate(1983.63 1459.81) scale(1.0224 1)" font-size="75.1" text-anchor="start" font-weight="bold" >(d)</text>
<text transform="translate(1987 2378.11) scale(1.0306 1)" font-size="75.1" text-anchor="start" font-weight="bold" >(e)</text>
<g id="plotd">
<path d="M771.7 1734.2H777.21V1701.8H771.7ZM777.21 1734.2H782.72V1696.02H777.21ZM782.72 1734.2H788.23V1684.7H782.72ZM788.23 1734.2H793.74V1679.18H788.23ZM793.74 1734.2H799.25V1694.84H793.74ZM799.25 1734.2H804.76V1687.51H799.25ZM804.76 1734.2H810.27V1672.25H804.76ZM810.27 1734.2H815.78V1691.43H810.27ZM815.78 1734.2H821.29V1672.28H815.78ZM821.29 1734.2H826.8V1662.75H821.29ZM826.8 1734.2H832.31V1643.17H826.8ZM832.31 1734.2H837.82V1642.25H832.31ZM837.82 1734.2H843.33V1646.54H837.82ZM843.33 1734.2H848.84V1640.86H843.33ZM848.84 1734.2H854.35V1633H848.84ZM854.35 1734.2H859.86V1601.2H854.35ZM859.86 1734.2H865.37V1613.91H859.86ZM865.37 1734.2H870.88V1601.73H865.37ZM870.88 1734.2H876.39V1582.23H870.88ZM876.39 1734.2H881.9V1577.88H876.39ZM881.9 1734.2H887.41V1568.25H881.9ZM887.41 1734.2H892.92V1570.62H887.41ZM892.92 1734.2H898.43V1540.24H892.92ZM898.43 1734.2H903.94V1533.26H898.43ZM903.94 1734.2H909.45V1492.89H903.94ZM909.45 1734.2H914.96V1487.14H909.45ZM914.96 1734.2H920.47V1484.8H914.96ZM920.47 1734.2H925.98V1458.38H920.47ZM925.98 1734.2H931.49V1462.49H925.98ZM931.49 1734.2H937V1420.98H931.49ZM937 1734.2H942.51V1425.97H937ZM942.51 1734.2H948.02V1399.03H942.51ZM948.02 1734.2H953.54V1421.99H948.02ZM953.54 1734.2H959.05V1394.39H953.54ZM959.05 1734.2H964.56V1401.34H959.05ZM964.56 1734.2H970.07V1394.49H964.56ZM970.07 1734.2H975.58V1395.75H970.07ZM975.58 1734.2H981.09V1391.99H975.58ZM981.09 1734.2H986.6V1388.39H981.09ZM986.6 1734.2H992.11V1392.62H986.6ZM992.11 1734.2H997.62V1384.06H992.11ZM997.62 1734.2H1003.13V1364.14H997.62ZM1003.13 1734.2H1008.64V1382.78H1003.13ZM1008.64 1734.2H1014.15V1390.59H1008.64ZM1014.15 1734.2H1019.66V1415.97H1014.15ZM1019.66 1734.2H1025.17V1385.75H1019.66ZM1025.17 1734.2H1030.68V1419.76H1025.17ZM1030.68 1734.2H1036.19V1411.93H1030.68ZM1036.19 1734.2H1041.7V1378.95H1036.19ZM1041.7 1734.2H1047.21V1381.11H1041.7ZM1047.21 1734.2H1052.72V1393.58H1047.21ZM1052.72 1734.2H1058.23V1416.31H1052.72ZM1058.23 1734.2H1063.74V1396.81H1058.23ZM1063.74 1734.2H1069.25V1401.29H1063.74ZM1069.25 1734.2H1074.76V1382.12H1069.25ZM1074.76 1734.2H1080.27V1358.51H1074.76ZM1080.27 1734.2H1085.78V1388.24H1080.27ZM1085.78 1734.2H1091.29V1402.75H1085.78ZM1091.29 1734.2H1096.8V1408.45H1091.29ZM1096.8 1734.2H1102.31V1392.22H1096.8ZM1102.31 1734.2H1107.82V1393.98H1102.31ZM1107.82 1734.2H1113.33V1408.18H1107.82ZM1113.33 1734.2H1118.84V1389.7H1113.33ZM1118.84 1734.2H1124.35V1408.17H1118.84ZM1124.35 1734.2H1129.86V1375.2H1124.35ZM1129.86 1734.2H1135.37V1375.92H1129.86ZM1135.37 1734.2H1140.88V1375.6H1135.37ZM1140.88 1734.2H1146.39V1398.31H1140.88ZM1146.39 1734.2H1151.9V1383.9H1146.39ZM1151.9 1734.2H1157.41V1393.32H1151.9ZM1157.41 1734.2H1162.92V1397.06H1157.41ZM1162.92 1734.2H1168.43V1396.34H1162.92ZM1168.43 1734.2H1173.94V1410.34H1168.43ZM1173.94 1734.2H1179.45V1412.44H1173.94ZM1179.45 1734.2H1184.96V1379.83H1179.45ZM1184.96 1734.2H1190.47V1394.19H1184.96ZM1190.47 1734.2H1195.98V1388.25H1190.47ZM1195.98 1734.2H1201.49V1376.81H1195.98ZM1201.49 1734.2H1207V1416.65H1201.49ZM1207 1734.2H1212.51V1402.82H1207ZM1212.51 1734.2H1218.02V1388.85H1212.51ZM1218.02 1734.2H1223.53V1385.69H1218.02ZM1223.53 1734.2H1229.04V1396.89H1223.53ZM1229.04 1734.2H1234.55V1376.41H1229.04ZM1234.55 1734.2H1240.06V1388.33H1234.55ZM1240.06 1734.2H1245.57V1409.08H1240.06ZM1245.57 1734.2H1251.08V1404.96H1245.57ZM1251.08 1734.2H1256.59V1379.67H1251.08ZM1256.59 1734.2H1262.1V1384.64H1256.59ZM1262.1 1734.2H1267.61V1419.07H1262.1ZM1267.61 1734.2H1273.12V1371.77H1267.61ZM1273.12 1734.2H1278.63V1382.69H1273.12ZM1278.63 1734.2H1284.14V1385.38H1278.63ZM1284.14 1734.2H1289.65V1396.99H1284.14ZM1289.65 1734.2H1295.16V1395.71H1289.65ZM1295.16 1734.2H1300.67V1416.58H1295.16ZM1300.67 1734.2H1306.19V1438.61H1300.67ZM1306.19 1734.2H1311.7V1426.37H1306.19ZM1311.7 1734.2H1317.21V1422.28H1311.7ZM1317.21 1734.2H1322.72V1491.16H1317.21ZM1322.72 1734.2H1328.23V1484.14H1322.72ZM1328.23 1734.2H1333.74V1505.25H1328.23ZM1333.74 1734.2H1339.25V1537.56H1333.74ZM1339.25 1734.2H1344.76V1509.92H1339.25ZM1344.76 1734.2H1350.27V1534.8H1344.76ZM1350.27 1734.2H1355.78V1544.6H1350.27ZM1355.78 1734.2H1361.29V1568.09H1355.78ZM1361.29 1734.2H1366.8V1561.68H1361.29ZM1366.8 1734.2H1372.31V1585.46H1366.8ZM1372.31 1734.2H1377.82V1589.61H1372.31ZM1377.82 1734.2H1383.33V1611.84H1377.82ZM1383.33 1734.2H1388.84V1621.46H1383.33ZM1388.84 1734.2H1394.35V1597.77H1388.84ZM1394.35 1734.2H1399.86V1627.96H1394.35ZM1399.86 1734.2H1405.37V1626.48H1399.86ZM1405.37 1734.2H1410.88V1636.96H1405.37ZM1410.88 1734.2H1416.39V1648.06H1410.88ZM1416.39 1734.2H1421.9V1655.36H1416.39ZM1421.9 1734.2H1427.41V1649.72H1421.9ZM1427.41 1734.2H1432.92V1663.94H1427.41ZM1432.92 1734.2H1438.43V1667.6H1432.92ZM1438.43 1734.2H1443.94V1670.92H1438.43ZM1443.94 1734.2H1449.45V1665H1443.94ZM1449.45 1734.2H1454.96V1673.41H1449.45ZM1454.96 1734.2H1460.47V1679.94H1454.96ZM1460.47 1734.2H1465.98V1691.26H1460.47ZM1465.98 1734.2H1471.49V1701.03H1465.98ZM1471.49 1734.2H1477V1688.24H1471.49Z" fill="#dfa077" shape-rendering="crispEdges"/>
<path d="M567.82 1734.2H573.33V1733.96H567.82ZM573.33 1734.2H578.84V1733.36H573.33ZM578.84 1734.2H584.35V1733.06H578.84ZM589.86 1734.2H595.38V1733.54H589.86ZM595.38 1734.2H600.89V1734.1H595.38ZM600.89 1734.2H606.4V1733.8H600.89ZM606.4 1734.2H611.91V1731.06H606.4ZM611.91 1734.2H617.42V1733.63H611.91ZM617.42 1734.2H622.93V1732.37H617.42ZM622.93 1734.2H628.44V1730.8H622.93ZM628.44 1734.2H633.95V1733H628.44ZM633.95 1734.2H639.46V1731.91H633.95ZM639.46 1734.2H644.97V1731.17H639.46ZM644.97 1734.2H650.48V1730.92H644.97ZM650.48 1734.2H655.99V1733.26H650.48ZM655.99 1734.2H661.5V1730.21H655.99ZM661.5 1734.2H667.01V1726.95H661.5ZM667.01 1734.2H672.52V1733.35H667.01ZM672.52 1734.2H678.03V1727.27H672.52ZM678.03 1734.2H683.54V1728.58H678.03ZM683.54 1734.2H689.05V1729.36H683.54ZM689.05 1734.2H694.56V1719.83H689.05ZM694.56 1734.2H700.07V1722.17H694.56ZM700.07 1734.2H705.58V1727.79H700.07ZM705.58 1734.2H711.09V1721.74H705.58ZM711.09 1734.2H716.6V1718.3H711.09ZM716.6 1734.2H722.11V1720.1H716.6ZM722.11 1734.2H727.62V1714.85H722.11ZM727.62 1734.2H733.13V1716.4H727.62ZM733.13 1734.2H738.64V1710.46H733.13ZM738.64 1734.2H744.15V1703.92H738.64ZM744.15 1734.2H749.66V1713.03H744.15ZM749.66 1734.2H755.17V1705.82H749.66ZM755.17 1734.2H760.68V1707.53H755.17ZM760.68 1734.2H766.19V1701.66H760.68ZM766.19 1734.2H771.7V1707.89H766.19ZM953.54 1394.39H959.05V1373.14H953.54ZM970.07 1395.75H975.58V1341.73H970.07ZM975.58 1391.99H981.09V1340.07H975.58ZM981.09 1388.39H986.6V1300.05H981.09ZM986.6 1392.62H992.11V1235.29H986.6ZM992.11 1384.06H997.62V1292.51H992.11ZM997.62 1364.14H1003.13V1272.36H997.62ZM1003.13 1382.78H1008.64V1236.68H1003.13ZM1008.64 1390.59H1014.15V1212.37H1008.64ZM1014.15 1415.97H1019.66V1212.26H1014.15ZM1019.66 1385.75H1025.17V1197.27H1019.66ZM1025.17 1419.76H1030.68V1157.94H1025.17ZM1030.68 1411.93H1036.19V1147.82H1030.68ZM1036.19 1378.95H1041.7V1176.94H1036.19ZM1041.7 1381.11H1047.21V1138.72H1041.7ZM1047.21 1393.58H1052.72V1123.4H1047.21ZM1052.72 1416.31H1058.23V1143.44H1052.72ZM1058.23 1396.81H1063.74V1096.81H1058.23ZM1063.74 1401.29H1069.25V1118.08H1063.74ZM1069.25 1382.12H1074.76V1059.15H1069.25ZM1074.76 1358.51H1080.27V1073.96H1074.76ZM1080.27 1388.24H1085.78V1069.65H1080.27ZM1085.78 1402.75H1091.29V1081.99H1085.78ZM1091.29 1408.45H1096.8V1062.66H1091.29ZM1096.8 1392.22H1102.31V1115.03H1096.8ZM1102.31 1393.98H1107.82V1087.96H1102.31ZM1107.82 1408.18H1113.33V1042.58H1107.82ZM1113.33 1389.7H1118.84V1112.99H1113.33ZM1118.84 1408.17H1124.35V1027.82H1118.84ZM1124.35 1375.2H1129.86V1105.37H1124.35ZM1129.86 1375.92H1135.37V1035.11H1129.86ZM1135.37 1375.6H1140.88V1083.76H1135.37ZM1140.88 1398.31H1146.39V1039.14H1140.88ZM1146.39 1383.9H1151.9V1060.14H1146.39ZM1151.9 1393.32H1157.41V1112.19H1151.9ZM1157.41 1397.06H1162.92V1038.45H1157.41ZM1162.92 1396.34H1168.43V1039.24H1162.92ZM1168.43 1410.34H1173.94V1088.24H1168.43ZM1173.94 1412.44H1179.45V1100.21H1173.94ZM1179.45 1379.83H1184.96V1105.94H1179.45ZM1184.96 1394.19H1190.47V1138.37H1184.96ZM1190.47 1388.25H1195.98V1090.83H1190.47ZM1195.98 1376.81H1201.49V1145.76H1195.98ZM1201.49 1416.65H1207V1142.29H1201.49ZM1207 1402.82H1212.51V1174.68H1207ZM1212.51 1388.85H1218.02V1182.52H1212.51ZM1218.02 1385.69H1223.53V1211.94H1218.02ZM1223.53 1396.89H1229.04V1161.54H1223.53ZM1229.04 1376.41H1234.55V1213.5H1229.04ZM1234.55 1388.33H1240.06V1200.05H1234.55ZM1240.06 1409.08H1245.57V1238.74H1240.06ZM1245.57 1404.96H1251.08V1271.21H1245.57ZM1251.08 1379.67H1256.59V1279.14H1251.08ZM1256.59 1384.64H1262.1V1301.53H1256.59ZM1262.1 1419.07H1267.61V1305.15H1262.1ZM1267.61 1371.77H1273.12V1329.41H1267.61ZM1273.12 1382.69H1278.63V1344.75H1273.12ZM1284.14 1396.99H1289.65V1390H1284.14ZM1289.65 1395.71H1295.16V1353.98H1289.65ZM1477 1734.2H1482.51V1691.98H1477ZM1482.51 1734.2H1488.02V1701.87H1482.51ZM1488.02 1734.2H1493.53V1700.18H1488.02ZM1493.53 1734.2H1499.04V1701.46H1493.53ZM1499.04 1734.2H1504.55V1703.95H1499.04ZM1504.55 1734.2H1510.06V1706.26H1504.55ZM1510.06 1734.2H1515.57V1716.03H1510.06ZM1515.57 1734.2H1521.08V1708.72H1515.57ZM1521.08 1734.2H1526.59V1723.21H1521.08ZM1526.59 1734.2H1532.1V1715.44H1526.59ZM1532.1 1734.2H1537.61V1718.76H1532.1ZM1537.61 1734.2H1543.12V1719.05H1537.61ZM1543.12 1734.2H1548.63V1717.33H1543.12ZM1548.63 1734.2H1554.14V1720.42H1548.63ZM1554.14 1734.2H1559.65V1729.56H1554.14ZM1559.65 1734.2H1565.16V1731.66H1559.65ZM1565.16 1734.2H1570.67V1724.52H1565.16ZM1570.67 1734.2H1576.18V1730.43H1570.67ZM1576.18 1734.2H1581.69V1728.09H1576.18ZM1581.69 1734.2H1587.2V1726.38H1581.69ZM1587.2 1734.2H1592.71V1733.25H1587.2ZM1598.22 1734.2H1603.73V1729.65H1598.22ZM1603.73 1734.2H1609.24V1730.67H1603.73ZM1609.24 1734.2H1614.75V1731.77H1609.24ZM1614.75 1734.2H1620.26V1731.78H1614.75ZM1620.26 1734.2H1625.77V1733.44H1620.26ZM1631.28 1734.2H1636.79V1732.56H1631.28ZM1636.79 1734.2H1642.3V1733.88H1636.79ZM1647.81 1734.2H1653.32V1732.03H1647.81ZM1653.32 1734.2H1658.84V1732.94H1653.32ZM1658.84 1734.2H1664.35V1732.5H1658.84ZM1669.86 1734.2H1675.37V1733.98H1669.86Z" fill="#98b4f0" shape-rendering="crispEdges"/>
<path d="M771.7 1701.8H777.21V1402.63H771.7ZM777.21 1696.02H782.72V1382.99H777.21ZM782.72 1684.7H788.23V1369.19H782.72ZM788.23 1679.18H793.74V1395.97H788.23ZM793.74 1694.84H799.25V1400.16H793.74ZM799.25 1687.51H804.76V1388.61H799.25ZM804.76 1672.25H810.27V1391.43H804.76ZM810.27 1691.43H815.78V1405.88H810.27ZM815.78 1672.28H821.29V1384.68H815.78ZM821.29 1662.75H826.8V1362.04H821.29ZM826.8 1643.17H832.31V1395.16H826.8ZM832.31 1642.25H837.82V1394.36H832.31ZM837.82 1646.54H843.33V1406.62H837.82ZM843.33 1640.86H848.84V1386.75H843.33ZM848.84 1633H854.35V1409.57H848.84ZM854.35 1601.2H859.86V1407.53H854.35ZM859.86 1613.91H865.37V1372.76H859.86ZM865.37 1601.73H870.88V1404.59H865.37ZM870.88 1582.23H876.39V1375.65H870.88ZM876.39 1577.88H881.9V1369.19H876.39ZM881.9 1568.25H887.41V1387.62H881.9ZM887.41 1570.62H892.92V1383.34H887.41ZM892.92 1540.24H898.43V1362.96H892.92ZM898.43 1533.26H903.94V1394.27H898.43ZM903.94 1492.89H909.45V1400.04H903.94ZM909.45 1487.14H914.96V1411.12H909.45ZM914.96 1484.8H920.47V1390.79H914.96ZM920.47 1458.38H925.98V1369.85H920.47ZM925.98 1462.49H931.49V1377.42H925.98ZM931.49 1420.98H937V1405.13H931.49ZM937 1425.97H942.51V1403.86H937ZM942.51 1399.03H948.02V1398.75H942.51ZM948.02 1421.99H953.54V1387.14H948.02ZM959.05 1401.34H964.56V1388.28H959.05ZM964.56 1394.49H970.07V1387.08H964.56ZM1278.63 1385.38H1284.14V1371.83H1278.63ZM1295.16 1416.58H1300.67V1407.81H1295.16ZM1300.67 1438.61H1306.19V1354.44H1300.67ZM1306.19 1426.37H1311.7V1393.96H1306.19ZM1311.7 1422.28H1317.21V1368.27H1311.7ZM1317.21 1491.16H1322.72V1400.83H1317.21ZM1322.72 1484.14H1328.23V1389.01H1322.72ZM1328.23 1505.25H1333.74V1415.75H1328.23ZM1333.74 1537.56H1339.25V1396.98H1333.74ZM1339.25 1509.92H1344.76V1377.07H1339.25ZM1344.76 1534.8H1350.27V1409.64H1344.76ZM1350.27 1544.6H1355.78V1375.78H1350.27ZM1355.78 1568.09H1361.29V1386.49H1355.78ZM1361.29 1561.68H1366.8V1406.61H1361.29ZM1366.8 1585.46H1372.31V1398.71H1366.8ZM1372.31 1589.61H1377.82V1398.09H1372.31ZM1377.82 1611.84H1383.33V1392.12H1377.82ZM1383.33 1621.46H1388.84V1399.21H1383.33ZM1388.84 1597.77H1394.35V1403.45H1388.84ZM1394.35 1627.96H1399.86V1395.84H1394.35ZM1399.86 1626.48H1405.37V1406.36H1399.86ZM1405.37 1636.96H1410.88V1410.19H1405.37ZM1410.88 1648.06H1416.39V1392.1H1410.88ZM1416.39 1655.36H1421.9V1378.54H1416.39ZM1421.9 1649.72H1427.41V1413.68H1421.9ZM1427.41 1663.94H1432.92V1391.35H1427.41ZM1432.92 1667.6H1438.43V1400.87H1432.92ZM1438.43 1670.92H1443.94V1405.64H1438.43ZM1443.94 1665H1449.45V1378.97H1443.94ZM1449.45 1673.41H1454.96V1398.95H1449.45ZM1454.96 1679.94H1460.47V1369.57H1454.96ZM1460.47 1691.26H1465.98V1402.76H1460.47ZM1465.98 1701.03H1471.49V1385.77H1465.98ZM1471.49 1688.24H1477V1394.71H1471.49Z" fill="#ffc47b" shape-rendering="crispEdges"/>
<line x1="560.11" y1="1734.2" x2="560.11" y2="978.2" stroke="#b0b0b0" stroke-width="2.6" stroke-dasharray="14.3 6.84" stroke-dashoffset="2.04"/>
<line x1="842.23" y1="1734.2" x2="842.23" y2="978.2" stroke="#b0b0b0" stroke-width="2.6" stroke-dasharray="14.3 6.84" stroke-dashoffset="2.04"/>
<line x1="1124.35" y1="1734.2" x2="1124.35" y2="978.2" stroke="#b0b0b0" stroke-width="2.6" stroke-dasharray="14.3 6.84" stroke-dashoffset="2.04"/>
<line x1="1406.47" y1="1734.2" x2="1406.47" y2="978.2" stroke="#b0b0b0" stroke-width="2.6" stroke-dasharray="14.3 6.84" stroke-dashoffset="2.04"/>
<line x1="1688.59" y1="1734.2" x2="1688.59" y2="978.2" stroke="#b0b0b0" stroke-width="2.6" stroke-dasharray="14.3 6.84" stroke-dashoffset="2.04"/>
<line x1="348.5" y1="1734.2" x2="1900.2" y2="1734.2" stroke="#b0b0b0" stroke-width="3" stroke-dasharray="11.8 5.55" stroke-dashoffset="0"/>
<line x1="348.5" y1="1562.8" x2="1900.2" y2="1562.8" stroke="#b0b0b0" stroke-width="3" stroke-dasharray="11.8 5.55" stroke-dashoffset="0"/>
<line x1="348.5" y1="1391.4" x2="1900.2" y2="1391.4" stroke="#b0b0b0" stroke-width="3" stroke-dasharray="11.8 5.55" stroke-dashoffset="0"/>
<line x1="348.5" y1="1220" x2="1900.2" y2="1220" stroke="#b0b0b0" stroke-width="3" stroke-dasharray="11.8 5.55" stroke-dashoffset="0"/>
<line x1="348.5" y1="1048.6" x2="1900.2" y2="1048.6" stroke="#b0b0b0" stroke-width="3" stroke-dasharray="11.8 5.55" stroke-dashoffset="0"/>
<polyline points="419.05,1734.19 420.62,1734.19 422.19,1734.19 423.76,1734.19 425.33,1734.19 426.9,1734.19 428.46,1734.19 430.03,1734.19 431.6,1734.19 433.17,1734.19 434.74,1734.19 436.31,1734.19 437.88,1734.19 439.45,1734.19 441.02,1734.19 442.59,1734.19 444.16,1734.19 445.72,1734.19 447.29,1734.19 448.86,1734.19 450.43,1734.18 452,1734.18 453.57,1734.18 455.14,1734.18 456.71,1734.18 458.28,1734.18 459.85,1734.18 461.42,1734.18 462.98,1734.18 464.55,1734.18 466.12,1734.17 467.69,1734.17 469.26,1734.17 470.83,1734.17 472.4,1734.17 473.97,1734.17 475.54,1734.17 477.11,1734.16 478.67,1734.16 480.24,1734.16 481.81,1734.16 483.38,1734.16 484.95,1734.15 486.52,1734.15 488.09,1734.15 489.66,1734.15 491.23,1734.15 492.8,1734.14 494.37,1734.14 495.93,1734.14 497.5,1734.13 499.07,1734.13 500.64,1734.13 502.21,1734.12 503.78,1734.12 505.35,1734.12 506.92,1734.11 508.49,1734.11 510.06,1734.1 511.63,1734.1 513.19,1734.1 514.76,1734.09 516.33,1734.09 517.9,1734.08 519.47,1734.08 521.04,1734.07 522.61,1734.06 524.18,1734.06 525.75,1734.05 527.32,1734.04 528.89,1734.04 530.45,1734.03 532.02,1734.02 533.59,1734.02 535.16,1734.01 536.73,1734 538.3,1733.99 539.87,1733.98 541.44,1733.97 543.01,1733.96 544.58,1733.95 546.15,1733.94 547.71,1733.93 549.28,1733.92 550.85,1733.9 552.42,1733.89 553.99,1733.88 555.56,1733.86 557.13,1733.85 558.7,1733.83 560.27,1733.82 561.84,1733.8 563.41,1733.79 564.97,1733.77 566.54,1733.75 568.11,1733.73 569.68,1733.71 571.25,1733.69 572.82,1733.67 574.39,1733.65 575.96,1733.63 577.53,1733.6 579.1,1733.58 580.66,1733.55 582.23,1733.53 583.8,1733.5 585.37,1733.47 586.94,1733.44 588.51,1733.41 590.08,1733.38 591.65,1733.35 593.22,1733.31 594.79,1733.28 596.36,1733.24 597.92,1733.2 599.49,1733.16 601.06,1733.12 602.63,1733.08 604.2,1733.04 605.77,1732.99 607.34,1732.94 608.91,1732.9 610.48,1732.84 612.05,1732.79 613.62,1732.74 615.18,1732.68 616.75,1732.62 618.32,1732.56 619.89,1732.5 621.46,1732.44 623.03,1732.37 624.6,1732.3 626.17,1732.23 627.74,1732.16 629.31,1732.08 630.88,1732.01 632.44,1731.95 634.01,1731.87 635.58,1731.79 637.15,1731.69 638.72,1731.59 640.29,1731.47 641.86,1731.34 643.43,1731.2 645,1731.06 646.57,1730.91 648.14,1730.75 649.7,1730.58 651.27,1730.4 652.84,1730.22 654.41,1730.04 655.98,1729.85 657.55,1729.65 659.12,1729.45 660.69,1729.24 662.26,1729.04 663.83,1728.82 665.4,1728.61 666.96,1728.39 668.53,1728.16 670.1,1727.94 671.67,1727.71 673.24,1727.48 674.81,1727.25 676.38,1727.02 677.95,1726.78 679.52,1726.54 681.09,1726.31 682.65,1726.07 684.22,1725.83 685.79,1725.58 687.36,1725.34 688.93,1725.1 690.5,1724.85 692.07,1724.61 693.64,1724.36 695.21,1724.11 696.78,1723.87 698.35,1723.62 699.91,1723.37 701.48,1723.12 703.05,1722.89 704.62,1722.66 706.19,1722.42 707.76,1722.17 709.33,1721.92 710.9,1721.66 712.47,1721.4 714.04,1721.13 715.61,1720.85 717.17,1720.57 718.74,1720.28 720.31,1719.98 721.88,1719.67 723.45,1719.35 725.02,1719.03 726.59,1718.7 728.16,1718.35 729.73,1718 731.3,1717.64 732.87,1717.26 734.43,1716.88 736,1716.49 737.57,1716.08 739.14,1715.66 740.71,1715.24 742.28,1714.8 743.85,1714.34 745.42,1713.88 746.99,1713.4 748.56,1712.91 750.13,1712.4 751.69,1711.89 753.26,1711.35 754.83,1710.81 756.4,1710.25 757.97,1709.67 759.54,1709.08 761.11,1708.47 762.68,1707.85 764.25,1707.21 765.82,1706.55 767.39,1705.88 768.95,1705.19 770.52,1704.49 772.09,1703.76 773.66,1703.02 775.23,1702.26 776.8,1701.48 778.37,1700.69 779.94,1699.87 781.51,1699.03 783.08,1698.17 784.64,1697.29 786.21,1696.39 787.78,1695.47 789.35,1694.52 790.92,1693.54 792.49,1692.55 794.06,1691.52 795.63,1690.48 797.2,1689.4 798.77,1688.3 800.34,1687.17 801.9,1686.01 803.47,1684.82 805.04,1683.6 806.61,1682.35 808.18,1681.07 809.75,1679.76 811.32,1678.42 812.89,1677.04 814.46,1675.63 816.03,1674.19 817.6,1672.71 819.16,1671.2 820.73,1669.65 822.3,1668.06 823.87,1666.44 825.44,1664.78 827.01,1663.08 828.58,1661.34 830.15,1659.56 831.72,1657.74 833.29,1655.88 834.86,1653.98 836.42,1652.04 837.99,1650.05 839.56,1648.02 841.13,1645.95 842.7,1643.83 844.27,1641.66 845.84,1639.45 847.41,1637.19 848.98,1634.89 850.55,1632.54 852.12,1630.14 853.68,1627.69 855.25,1625.19 856.82,1622.65 858.39,1620.06 859.96,1617.42 861.53,1614.74 863.1,1612.01 864.67,1609.24 866.24,1606.43 867.81,1603.57 869.38,1600.67 870.94,1597.73 872.51,1594.75 874.08,1591.72 875.65,1588.66 877.22,1585.56 878.79,1582.41 880.36,1579.23 881.93,1576.02 883.5,1572.76 885.07,1569.47 886.63,1566.14 888.2,1562.78 889.77,1559.38 891.34,1555.95 892.91,1552.48 894.48,1548.98 896.05,1545.45 897.62,1541.88 899.19,1538.29 900.76,1534.66 902.33,1531.01 903.89,1527.32 905.46,1523.61 907.03,1519.86 908.6,1516.09 910.17,1512.3 911.74,1508.47 913.31,1504.62 914.88,1500.75 916.45,1496.84 918.02,1492.92 919.59,1488.97 921.15,1485 922.72,1481.01 924.29,1476.99 925.86,1472.95 927.43,1468.89 929,1464.81 930.57,1460.72 932.14,1456.6 933.71,1452.46 935.28,1448.31 936.85,1444.14 938.41,1439.95 939.98,1435.75 941.55,1431.53 943.12,1427.3 944.69,1423.05 946.26,1418.79 947.83,1414.52 949.4,1410.23 950.97,1405.93 952.54,1401.62 954.11,1397.3 955.67,1392.97 957.24,1388.63 958.81,1384.28 960.38,1379.92 961.95,1375.55 963.52,1371.18 965.09,1366.8 966.66,1362.41 968.23,1358.02 969.8,1353.63 971.37,1349.23 972.93,1344.82 974.5,1340.41 976.07,1336 977.64,1331.59 979.21,1327.18 980.78,1322.76 982.35,1318.35 983.92,1313.94 985.49,1309.52 987.06,1305.11 988.62,1300.7 990.19,1296.3 991.76,1291.89 993.33,1287.5 994.9,1283.11 996.47,1278.73 998.04,1274.35 999.61,1269.99 1001.18,1265.65 1002.75,1261.31 1004.32,1256.99 1005.88,1252.69 1007.45,1248.41 1009.02,1244.14 1010.59,1239.9 1012.16,1235.68 1013.73,1231.48 1015.3,1227.31 1016.87,1223.17 1018.44,1219.05 1020.01,1214.96 1021.58,1210.91 1023.14,1206.88 1024.71,1202.89 1026.28,1198.94 1027.85,1195.02 1029.42,1191.13 1030.99,1187.29 1032.56,1183.49 1034.13,1179.73 1035.7,1176.02 1037.27,1172.34 1038.84,1168.72 1040.4,1165.14 1041.97,1161.61 1043.54,1158.14 1045.11,1154.71 1046.68,1151.34 1048.25,1148.02 1049.82,1144.76 1051.39,1141.56 1052.96,1138.41 1054.53,1135.33 1056.1,1132.3 1057.66,1129.34 1059.23,1126.45 1060.8,1123.62 1062.37,1120.86 1063.94,1118.16 1065.51,1115.54 1067.08,1112.99 1068.65,1110.51 1070.22,1108.1 1071.79,1105.77 1073.36,1103.51 1074.92,1101.32 1076.49,1099.2 1078.06,1097.15 1079.63,1095.18 1081.2,1093.28 1082.77,1091.45 1084.34,1089.69 1085.91,1088 1087.48,1086.38 1089.05,1084.84 1090.61,1083.36 1092.18,1081.96 1093.75,1080.63 1095.32,1079.37 1096.89,1078.18 1098.46,1077.06 1100.03,1076.02 1101.6,1075.04 1103.17,1074.14 1104.74,1073.3 1106.31,1072.54 1107.87,1071.84 1109.44,1071.22 1111.01,1070.66 1112.58,1070.18 1114.15,1069.77 1115.72,1069.42 1117.29,1069.15 1118.86,1068.94 1120.43,1068.81 1122,1068.75 1123.57,1068.75 1125.13,1068.83 1126.7,1068.97 1128.27,1069.18 1129.84,1069.47 1131.41,1069.82 1132.98,1070.24 1134.55,1070.73 1136.12,1071.29 1137.69,1071.92 1139.26,1072.61 1140.83,1073.38 1142.39,1074.21 1143.96,1075.11 1145.53,1076.08 1147.1,1077.12 1148.67,1078.23 1150.24,1079.41 1151.81,1080.65 1153.38,1081.96 1154.95,1083.34 1156.52,1084.79 1158.09,1086.31 1159.65,1087.89 1161.22,1089.54 1162.79,1091.26 1164.36,1093.04 1165.93,1094.9 1167.5,1096.82 1169.07,1098.81 1170.64,1100.86 1172.21,1102.98 1173.78,1105.17 1175.34,1107.43 1176.91,1109.75 1178.48,1112.14 1180.05,1114.59 1181.62,1117.11 1183.19,1119.7 1184.76,1122.35 1186.33,1125.06 1187.9,1127.83 1189.47,1130.66 1191.04,1133.55 1192.6,1136.5 1194.17,1139.5 1195.74,1142.57 1197.31,1145.68 1198.88,1148.85 1200.45,1152.07 1202.02,1155.35 1203.59,1158.67 1205.16,1162.04 1206.73,1165.47 1208.3,1168.93 1209.86,1172.45 1211.43,1176.01 1213,1179.62 1214.57,1183.26 1216.14,1186.95 1217.71,1190.68 1219.28,1194.46 1220.85,1198.27 1222.42,1202.11 1223.99,1206 1225.56,1209.92 1227.12,1213.88 1228.69,1217.86 1230.26,1221.89 1231.83,1225.94 1233.4,1230.02 1234.97,1234.14 1236.54,1238.28 1238.11,1242.45 1239.68,1246.64 1241.25,1250.86 1242.82,1255.11 1244.38,1259.37 1245.95,1263.66 1247.52,1267.97 1249.09,1272.31 1250.66,1276.65 1252.23,1281.02 1253.8,1285.41 1255.37,1289.81 1256.94,1294.22 1258.51,1298.65 1260.08,1303.09 1261.64,1307.54 1263.21,1312.01 1264.78,1316.48 1266.35,1320.96 1267.92,1325.45 1269.49,1329.94 1271.06,1334.44 1272.63,1338.95 1274.2,1343.45 1275.77,1347.96 1277.33,1352.47 1278.9,1356.98 1280.47,1361.49 1282.04,1366 1283.61,1370.5 1285.18,1375 1286.75,1379.5 1288.32,1383.98 1289.89,1388.46 1291.46,1392.94 1293.03,1397.4 1294.59,1401.85 1296.16,1406.29 1297.73,1410.72 1299.3,1415.13 1300.87,1419.53 1302.44,1423.91 1304.01,1428.28 1305.58,1432.63 1307.15,1436.96 1308.72,1441.26 1310.29,1445.55 1311.85,1449.82 1313.42,1454.06 1314.99,1458.28 1316.56,1462.47 1318.13,1466.64 1319.7,1470.78 1321.27,1474.89 1322.84,1478.97 1324.41,1483.02 1325.98,1487.04 1327.55,1491.02 1329.11,1494.98 1330.68,1498.89 1332.25,1502.78 1333.82,1506.62 1335.39,1510.43 1336.96,1514.2 1338.53,1517.92 1340.1,1521.61 1341.67,1525.26 1343.24,1528.86 1344.81,1532.41 1346.37,1535.93 1347.94,1539.39 1349.51,1542.81 1351.08,1546.19 1352.65,1549.52 1354.22,1552.81 1355.79,1556.06 1357.36,1559.26 1358.93,1562.42 1360.5,1565.54 1362.07,1568.61 1363.63,1571.64 1365.2,1574.63 1366.77,1577.58 1368.34,1580.49 1369.91,1583.36 1371.48,1586.18 1373.05,1588.97 1374.62,1591.72 1376.19,1594.42 1377.76,1597.09 1379.32,1599.72 1380.89,1602.31 1382.46,1604.86 1384.03,1607.38 1385.6,1609.85 1387.17,1612.29 1388.74,1614.69 1390.31,1617.06 1391.88,1619.39 1393.45,1621.68 1395.02,1623.94 1396.58,1626.16 1398.15,1628.34 1399.72,1630.49 1401.29,1632.61 1402.86,1634.69 1404.43,1636.74 1406,1638.76 1407.57,1640.74 1409.14,1642.69 1410.71,1644.6 1412.28,1646.49 1413.84,1648.34 1415.41,1650.16 1416.98,1651.95 1418.55,1653.7 1420.12,1655.43 1421.69,1657.12 1423.26,1658.79 1424.83,1660.43 1426.4,1662.03 1427.97,1663.61 1429.54,1665.16 1431.1,1666.68 1432.67,1668.17 1434.24,1669.63 1435.81,1671.07 1437.38,1672.47 1438.95,1673.86 1440.52,1675.21 1442.09,1676.54 1443.66,1677.84 1445.23,1679.12 1446.8,1680.37 1448.36,1681.59 1449.93,1682.79 1451.5,1683.97 1453.07,1685.12 1454.64,1686.25 1456.21,1687.35 1457.78,1688.43 1459.35,1689.49 1460.92,1690.52 1462.49,1691.54 1464.06,1692.53 1465.62,1693.5 1467.19,1694.44 1468.76,1695.37 1470.33,1696.28 1471.9,1697.16 1473.47,1698.03 1475.04,1698.87 1476.61,1699.7 1478.18,1700.5 1479.75,1701.29 1481.31,1702.06 1482.88,1702.81 1484.45,1703.54 1486.02,1704.26 1487.59,1704.95 1489.16,1705.63 1490.73,1706.3 1492.3,1706.94 1493.87,1707.57 1495.44,1708.19 1497.01,1708.79 1498.57,1709.37 1500.14,1709.94 1501.71,1710.5 1503.28,1711.04 1504.85,1711.56 1506.42,1712.08 1507.99,1712.58 1509.56,1713.06 1511.13,1713.54 1512.7,1714 1514.27,1714.45 1515.83,1714.89 1517.4,1715.31 1518.97,1715.73 1520.54,1716.13 1522.11,1716.53 1523.68,1716.91 1525.25,1717.28 1526.82,1717.65 1528.39,1718 1529.96,1718.35 1531.53,1718.69 1533.09,1719.02 1534.66,1719.34 1536.23,1719.65 1537.8,1719.96 1539.37,1720.25 1540.94,1720.55 1542.51,1720.83 1544.08,1721.11 1545.65,1721.39 1547.22,1721.65 1548.79,1721.96 1550.35,1722.28 1551.92,1722.59 1553.49,1722.91 1555.06,1723.21 1556.63,1723.52 1558.2,1723.82 1559.77,1724.12 1561.34,1724.42 1562.91,1724.71 1564.48,1725.01 1566.05,1725.29 1567.61,1725.58 1569.18,1725.86 1570.75,1726.14 1572.32,1726.42 1573.89,1726.69 1575.46,1726.96 1577.03,1727.23 1578.6,1727.49 1580.17,1727.75 1581.74,1728 1583.3,1728.26 1584.87,1728.5 1586.44,1728.74 1588.01,1728.98 1589.58,1729.21 1591.15,1729.43 1592.72,1729.65 1594.29,1729.87 1595.86,1730.07 1597.43,1730.27 1599,1730.46 1600.56,1730.65 1602.13,1730.82 1603.7,1730.99 1605.27,1731.15 1606.84,1731.29 1608.41,1731.43 1609.98,1731.56 1611.55,1731.67 1613.12,1731.78 1614.69,1731.87 1616.26,1731.95 1617.82,1732.01 1619.39,1732.08 1620.96,1732.16 1622.53,1732.23 1624.1,1732.3 1625.67,1732.37 1627.24,1732.44 1628.81,1732.5 1630.38,1732.56 1631.95,1732.62 1633.52,1732.68 1635.08,1732.74 1636.65,1732.79 1638.22,1732.84 1639.79,1732.9 1641.36,1732.94 1642.93,1732.99 1644.5,1733.04 1646.07,1733.08 1647.64,1733.12 1649.21,1733.16 1650.78,1733.2 1652.34,1733.24 1653.91,1733.28 1655.48,1733.31 1657.05,1733.35 1658.62,1733.38 1660.19,1733.41 1661.76,1733.44 1663.33,1733.47 1664.9,1733.5 1666.47,1733.53 1668.04,1733.55 1669.6,1733.58 1671.17,1733.6 1672.74,1733.63 1674.31,1733.65 1675.88,1733.67 1677.45,1733.69 1679.02,1733.71 1680.59,1733.73 1682.16,1733.75 1683.73,1733.77 1685.29,1733.79 1686.86,1733.8 1688.43,1733.82 1690,1733.83 1691.57,1733.85 1693.14,1733.86 1694.71,1733.88 1696.28,1733.89 1697.85,1733.9 1699.42,1733.92 1700.99,1733.93 1702.55,1733.94 1704.12,1733.95 1705.69,1733.96 1707.26,1733.97 1708.83,1733.98 1710.4,1733.99 1711.97,1734 1713.54,1734.01 1715.11,1734.02 1716.68,1734.02 1718.25,1734.03 1719.81,1734.04 1721.38,1734.04 1722.95,1734.05 1724.52,1734.06 1726.09,1734.06 1727.66,1734.07 1729.23,1734.08 1730.8,1734.08 1732.37,1734.09 1733.94,1734.09 1735.51,1734.1 1737.07,1734.1 1738.64,1734.1 1740.21,1734.11 1741.78,1734.11 1743.35,1734.12 1744.92,1734.12 1746.49,1734.12 1748.06,1734.13 1749.63,1734.13 1751.2,1734.13 1752.77,1734.14 1754.33,1734.14 1755.9,1734.14 1757.47,1734.15 1759.04,1734.15 1760.61,1734.15 1762.18,1734.15 1763.75,1734.15 1765.32,1734.16 1766.89,1734.16 1768.46,1734.16 1770.03,1734.16 1771.59,1734.16 1773.16,1734.17 1774.73,1734.17 1776.3,1734.17 1777.87,1734.17 1779.44,1734.17 1781.01,1734.17 1782.58,1734.17 1784.15,1734.18 1785.72,1734.18 1787.28,1734.18 1788.85,1734.18 1790.42,1734.18 1791.99,1734.18 1793.56,1734.18 1795.13,1734.18 1796.7,1734.18 1798.27,1734.18 1799.84,1734.19 1801.41,1734.19 1802.98,1734.19 1804.54,1734.19 1806.11,1734.19 1807.68,1734.19 1809.25,1734.19 1810.82,1734.19 1812.39,1734.19 1813.96,1734.19 1815.53,1734.19 1817.1,1734.19 1818.67,1734.19 1820.24,1734.19 1821.8,1734.19 1823.37,1734.19 1824.94,1734.19 1826.51,1734.19 1828.08,1734.19 1829.65,1734.19" fill="none" stroke="#0000ff" stroke-width="3.4" stroke-linejoin="round" stroke-linecap="round"/>
<polyline points="694.12,1733.84 695.84,1733.74 697.57,1733.63 699.29,1733.49 701.01,1733.33 702.74,1733.12 704.46,1732.88 706.19,1732.59 707.91,1732.24 709.64,1731.83 711.36,1731.34 713.09,1730.76 714.81,1730.09 716.53,1729.3 718.26,1728.39 719.98,1727.34 721.71,1726.13 723.43,1724.75 725.16,1723.17 726.88,1721.38 728.6,1719.37 730.33,1717.1 732.05,1714.57 733.78,1711.75 735.5,1708.62 737.23,1705.18 738.95,1701.4 740.68,1697.26 742.4,1692.77 744.12,1687.9 745.85,1682.65 747.57,1677.02 749.3,1671.01 751.02,1664.62 752.75,1657.86 754.47,1650.75 756.19,1643.28 757.92,1635.49 759.64,1627.41 761.37,1619.04 763.09,1610.44 764.82,1601.62 766.54,1592.63 768.27,1583.5 769.99,1574.28 771.71,1565 773.44,1555.72 775.16,1546.47 776.89,1537.29 778.61,1528.23 780.34,1519.32 782.06,1510.61 783.78,1502.13 785.51,1493.91 787.23,1485.97 788.96,1478.35 790.68,1471.07 792.41,1464.14 794.13,1457.57 795.86,1451.38 797.58,1445.57 799.3,1440.14 801.03,1435.1 802.75,1430.43 804.48,1426.12 806.2,1422.17 807.93,1418.57 809.65,1415.29 811.37,1412.33 813.1,1409.67 814.82,1407.28 816.55,1405.14 818.27,1403.25 820,1401.58 821.72,1400.1 823.45,1398.81 825.17,1397.69 826.89,1396.71 828.62,1395.87 830.34,1395.15 832.07,1394.53 833.79,1394 835.52,1393.55 837.24,1393.17 838.96,1392.86 840.69,1392.61 842.41,1392.42 844.14,1392.29 845.86,1392.2 847.59,1392.15 849.31,1392.14 851.04,1392.16 852.76,1392.21 854.48,1392.27 856.21,1392.36 857.93,1392.46 859.66,1392.58 861.38,1392.7 863.11,1392.84 864.83,1392.98 866.56,1393.13 868.28,1393.28 870,1393.44 871.73,1393.61 873.45,1393.86 875.18,1394.16 876.9,1394.49 878.63,1394.84 880.35,1395.19 882.07,1395.51 883.8,1395.8 885.52,1396.02 887.25,1396.16 888.97,1396.2 890.7,1396.2 892.42,1396.19 894.15,1396.18 895.87,1396.16 897.59,1396.14 899.32,1396.12 901.04,1396.09 902.77,1396.06 904.49,1396.03 906.22,1395.99 907.94,1395.95 909.66,1395.91 911.39,1395.86 913.11,1395.81 914.84,1395.76 916.56,1395.71 918.29,1395.65 920.01,1395.59 921.74,1395.53 923.46,1395.47 925.18,1395.41 926.91,1395.34 928.63,1395.26 930.36,1395.14 932.08,1395 933.81,1394.84 935.53,1394.65 937.25,1394.46 938.98,1394.25 940.7,1394.03 942.43,1393.81 944.15,1393.58 945.88,1393.37 947.6,1393.16 949.33,1392.96 951.05,1392.77 952.77,1392.61 954.5,1392.47 956.22,1392.35 957.95,1392.23 959.67,1392.11 961.4,1391.99 963.12,1391.87 964.84,1391.75 966.57,1391.63 968.29,1391.51 970.02,1391.4 971.74,1391.28 973.47,1391.17 975.19,1391.06 976.92,1390.95 978.64,1390.84 980.36,1390.74 982.09,1390.64 983.81,1390.54 985.54,1390.45 987.26,1390.36 988.99,1390.28 990.71,1390.2 992.43,1390.12 994.16,1390.05 995.88,1389.98 997.61,1389.93 999.33,1389.87 1001.06,1389.82 1002.78,1389.78 1004.51,1389.75 1006.23,1389.72 1007.95,1389.7 1009.68,1389.69 1011.4,1389.69 1013.13,1389.7 1014.85,1389.76 1016.58,1389.86 1018.3,1389.99 1020.02,1390.15 1021.75,1390.33 1023.47,1390.55 1025.2,1390.78 1026.92,1391.04 1028.65,1391.31 1030.37,1391.59 1032.1,1391.88 1033.82,1392.18 1035.54,1392.49 1037.27,1392.79 1038.99,1393.09 1040.72,1393.39 1042.44,1393.68 1044.17,1393.96 1045.89,1394.23 1047.62,1394.48 1049.34,1394.71 1051.06,1394.91 1052.79,1395.1 1054.51,1395.25 1056.24,1395.37 1057.96,1395.46 1059.69,1395.5 1061.41,1395.51 1063.13,1395.48 1064.86,1395.41 1066.58,1395.3 1068.31,1395.16 1070.03,1394.98 1071.76,1394.78 1073.48,1394.56 1075.21,1394.31 1076.93,1394.03 1078.65,1393.74 1080.38,1393.44 1082.1,1393.12 1083.83,1392.79 1085.55,1392.45 1087.28,1392.11 1089,1391.76 1090.72,1391.41 1092.45,1391.06 1094.17,1390.72 1095.9,1390.39 1097.62,1390.06 1099.35,1389.75 1101.07,1389.45 1102.8,1389.16 1104.52,1388.9 1106.24,1388.66 1107.97,1388.44 1109.69,1388.25 1111.42,1388.09 1113.14,1387.97 1114.87,1387.85 1116.59,1387.74 1118.31,1387.63 1120.04,1387.52 1121.76,1387.41 1123.49,1387.31 1125.21,1387.21 1126.94,1387.11 1128.66,1387.01 1130.39,1386.92 1132.11,1386.83 1133.83,1386.74 1135.56,1386.67 1137.28,1386.59 1139.01,1386.53 1140.73,1386.47 1142.46,1386.41 1144.18,1386.37 1145.9,1386.33 1147.63,1386.3 1149.35,1386.27 1151.08,1386.26 1152.8,1386.26 1154.53,1386.26 1156.25,1386.26 1157.98,1386.26 1159.7,1386.26 1161.42,1386.26 1163.15,1386.26 1164.87,1386.26 1166.6,1386.26 1168.32,1386.26 1170.05,1386.26 1171.77,1386.26 1173.49,1386.26 1175.22,1386.26 1176.94,1386.26 1178.67,1386.26 1180.39,1386.26 1182.12,1386.26 1183.84,1386.26 1185.57,1386.26 1187.29,1386.26 1189.01,1386.26 1190.74,1386.26 1192.46,1386.26 1194.19,1386.26 1195.91,1386.26 1197.64,1386.26 1199.36,1386.26 1201.08,1386.26 1202.81,1386.26 1204.53,1386.26 1206.26,1386.26 1207.98,1386.26 1209.71,1386.26 1211.43,1386.26 1213.16,1386.26 1214.88,1386.26 1216.6,1386.26 1218.33,1386.26 1220.05,1386.26 1221.78,1386.26 1223.5,1386.26 1225.23,1386.26 1226.95,1386.26 1228.68,1386.26 1230.4,1386.26 1232.12,1386.26 1233.85,1386.26 1235.57,1386.26 1237.3,1386.26 1239.02,1386.26 1240.75,1386.26 1242.47,1386.26 1244.19,1386.26 1245.92,1386.26 1247.64,1386.26 1249.37,1386.26 1251.09,1386.27 1252.82,1386.34 1254.54,1386.47 1256.27,1386.64 1257.99,1386.86 1259.71,1387.11 1261.44,1387.39 1263.16,1387.71 1264.89,1388.04 1266.61,1388.39 1268.34,1388.75 1270.06,1389.12 1271.78,1389.48 1273.51,1389.84 1275.23,1390.19 1276.96,1390.52 1278.68,1390.83 1280.41,1391.12 1282.13,1391.37 1283.86,1391.61 1285.58,1391.85 1287.3,1392.1 1289.03,1392.35 1290.75,1392.61 1292.48,1392.88 1294.2,1393.14 1295.93,1393.4 1297.65,1393.66 1299.37,1393.92 1301.1,1394.18 1302.82,1394.42 1304.55,1394.66 1306.27,1394.89 1308,1395.11 1309.72,1395.32 1311.45,1395.51 1313.17,1395.69 1314.89,1395.85 1316.62,1395.99 1318.34,1396.11 1320.07,1396.21 1321.79,1396.29 1323.52,1396.34 1325.24,1396.37 1326.96,1396.37 1328.69,1396.37 1330.41,1396.37 1332.14,1396.37 1333.86,1396.37 1335.59,1396.37 1337.31,1396.37 1339.04,1396.37 1340.76,1396.37 1342.48,1396.37 1344.21,1396.37 1345.93,1396.37 1347.66,1396.37 1349.38,1396.37 1351.11,1396.37 1352.83,1396.37 1354.55,1396.37 1356.28,1396.37 1358,1396.37 1359.73,1396.37 1361.45,1396.37 1363.18,1396.37 1364.9,1396.37 1366.63,1396.37 1368.35,1396.37 1370.07,1396.38 1371.8,1396.38 1373.52,1396.38 1375.25,1396.38 1376.97,1396.39 1378.7,1396.39 1380.42,1396.4 1382.14,1396.4 1383.87,1396.41 1385.59,1396.43 1387.32,1396.44 1389.04,1396.47 1390.77,1396.49 1392.49,1396.53 1394.22,1396.57 1395.94,1396.62 1397.66,1396.69 1399.39,1396.77 1401.11,1396.87 1402.84,1396.99 1404.56,1397.14 1406.29,1397.32 1408.01,1397.54 1409.74,1397.8 1411.46,1398.12 1413.18,1398.49 1414.91,1398.93 1416.63,1399.45 1418.36,1400.06 1420.08,1400.78 1421.81,1401.61 1423.53,1402.57 1425.25,1403.68 1426.98,1404.95 1428.7,1406.4 1430.43,1408.05 1432.15,1409.91 1433.88,1412.02 1435.6,1414.37 1437.33,1417 1439.05,1419.92 1440.77,1423.15 1442.5,1426.7 1444.22,1430.59 1445.95,1434.83 1447.67,1439.43 1449.4,1444.41 1451.12,1449.76 1452.84,1455.48 1454.57,1461.58 1456.29,1468.05 1458.02,1474.88 1459.74,1482.06 1461.47,1489.57 1463.19,1497.39 1464.92,1505.49 1466.64,1513.85 1468.36,1522.44 1470.09,1531.22 1471.81,1540.15 1473.54,1549.19 1475.26,1558.31 1476.99,1567.46 1478.71,1576.6 1480.43,1585.68 1482.16,1594.68 1483.88,1603.54 1485.61,1612.23 1487.33,1620.71 1489.06,1628.95 1490.78,1636.93 1492.51,1644.6 1494.23,1651.96 1495.95,1658.97 1497.68,1665.63 1499.4,1671.93 1501.13,1677.85 1502.85,1683.4 1504.58,1688.57 1506.3,1693.37 1508.02,1697.8 1509.75,1701.87 1511.47,1705.6 1513.2,1708.99 1514.92,1712.07 1516.65,1714.85 1518.37,1717.35 1520.1,1719.58 1521.82,1721.57 1523.54,1723.33 1525.27,1724.88 1526.99,1726.25 1528.72,1727.44 1530.44,1728.48 1532.17,1729.37 1533.89,1730.15 1535.61,1730.81 1537.34,1731.38 1539.06,1731.86 1540.79,1732.27 1542.51,1732.61 1544.24,1732.9 1545.96,1733.14 1547.69,1733.34 1549.41,1733.5 1551.13,1733.64 1552.86,1733.75 1554.58,1733.84" fill="none" stroke="#b40000" stroke-width="3.4" stroke-linejoin="round" stroke-linecap="round"/>
<rect x="348.5" y="978.2" width="1551.7" height="756" fill="none" stroke="#888888" stroke-width="2.6"/>
<line x1="560.11" y1="1734.2" x2="560.11" y2="1740.7" stroke="#888888" stroke-width="2.2"/>
<line x1="842.23" y1="1734.2" x2="842.23" y2="1740.7" stroke="#888888" stroke-width="2.2"/>
<line x1="1124.35" y1="1734.2" x2="1124.35" y2="1740.7" stroke="#888888" stroke-width="2.2"/>
<line x1="1406.47" y1="1734.2" x2="1406.47" y2="1740.7" stroke="#888888" stroke-width="2.2"/>
<line x1="1688.59" y1="1734.2" x2="1688.59" y2="1740.7" stroke="#888888" stroke-width="2.2"/>
<line x1="342.5" y1="1734.2" x2="348.5" y2="1734.2" stroke="#888888" stroke-width="2.6"/>
<line x1="342.5" y1="1562.8" x2="348.5" y2="1562.8" stroke="#888888" stroke-width="2.6"/>
<line x1="342.5" y1="1391.4" x2="348.5" y2="1391.4" stroke="#888888" stroke-width="2.6"/>
<line x1="342.5" y1="1220" x2="348.5" y2="1220" stroke="#888888" stroke-width="2.6"/>
<line x1="342.5" y1="1048.6" x2="348.5" y2="1048.6" stroke="#888888" stroke-width="2.6"/>
<text transform="translate(527.14 1781) scale(0.7920 1)" font-size="52" text-anchor="start" font-weight="bold" >-0.4</text>
<text transform="translate(809.76 1781) scale(0.7920 1)" font-size="52" text-anchor="start" font-weight="bold" >-0.2</text>
<text transform="translate(1098.61 1781) scale(0.7920 1)" font-size="52" text-anchor="start" font-weight="bold" >0.0</text>
<text transform="translate(1380.83 1781) scale(0.7920 1)" font-size="52" text-anchor="start" font-weight="bold" >0.2</text>
<text transform="translate(1662.45 1781) scale(0.7920 1)" font-size="52" text-anchor="start" font-weight="bold" >0.4</text>
<text transform="translate(316.78 1751.1) scale(0.7920 1)" font-size="52" text-anchor="start" font-weight="bold" >0</text>
<text transform="translate(317.34 1579.7) scale(0.7920 1)" font-size="52" text-anchor="start" font-weight="bold" >1</text>
<text transform="translate(316.98 1408.3) scale(0.7920 1)" font-size="52" text-anchor="start" font-weight="bold" >2</text>
<text transform="translate(316.62 1236.9) scale(0.7920 1)" font-size="52" text-anchor="start" font-weight="bold" >3</text>
<text transform="translate(315.97 1065.5) scale(0.7920 1)" font-size="52" text-anchor="start" font-weight="bold" >4</text>
<text transform="translate(953.73 1840.5) scale(0.8155 1)" font-size="59.5" text-anchor="start" font-weight="bold" >Grayscale Value</text>
<text transform="translate(300.12 1500.21) scale(0.8013 1) rotate(-90)" font-size="58.86" text-anchor="start" font-weight="bold" >Probability</text>
<rect x="1472.7" y="1002.7" width="406.5" height="156.3" rx="7" ry="7" fill="#fff" fill-opacity="0.8" stroke="#d6d6d6" stroke-width="2"/>
<rect x="1488.5" y="1022.5" width="82" height="34.8" fill="#91aeee"/>
<text transform="translate(1601.99 1058.1) scale(0.8091 1)" font-size="51" text-anchor="start" font-weight="bold" >Gaussian noise</text>
<rect x="1488.5" y="1093.7" width="82" height="34" fill="#ffc47b"/>
<text transform="translate(1603.38 1128.5) scale(0.8042 1)" font-size="51" text-anchor="start" font-weight="bold" >uniform noise</text>
</g>
<g id="plote">
<path d="M417.3 2708.4H422.81V2357.94H417.3ZM422.81 2708.4H428.32V2325.08H422.81ZM428.32 2708.4H433.83V2314.13H428.32ZM433.83 2708.4H439.34V2322.23H433.83ZM439.34 2708.4H444.85V2258.49H439.34ZM444.85 2708.4H450.36V2343.11H444.85ZM450.36 2708.4H455.87V2297.83H450.36ZM455.87 2708.4H461.38V2283.57H455.87ZM461.38 2708.4H466.89V2240.63H461.38ZM466.89 2708.4H472.4V2232.37H466.89ZM472.4 2708.4H477.91V2201.76H472.4ZM477.91 2708.4H483.42V2275.11H477.91ZM483.42 2708.4H488.93V2204.42H483.42ZM488.93 2708.4H494.44V2226.71H488.93ZM494.44 2708.4H499.95V2231.24H494.44ZM499.95 2708.4H505.46V2193.09H499.95ZM505.46 2708.4H510.97V2228.36H505.46ZM510.97 2708.4H516.48V2255.71H510.97ZM516.48 2708.4H521.99V2205.02H516.48ZM521.99 2708.4H527.5V2232.24H521.99ZM527.5 2708.4H533.02V2205.64H527.5ZM533.02 2708.4H538.53V2174.6H533.02ZM538.53 2708.4H544.04V2174.38H538.53ZM544.04 2708.4H549.55V2135.8H544.04ZM549.55 2708.4H555.06V2182.25H549.55ZM555.06 2708.4H560.57V2216.45H555.06ZM560.57 2708.4H566.08V2193H560.57ZM566.08 2708.4H571.59V2195.41H566.08ZM571.59 2708.4H577.1V2201.6H571.59ZM577.1 2708.4H582.61V2154.43H577.1ZM582.61 2708.4H588.12V2182.14H582.61ZM588.12 2708.4H593.63V2216.76H588.12ZM593.63 2708.4H599.14V2141.66H593.63ZM599.14 2708.4H604.65V2161.89H599.14ZM604.65 2708.4H610.16V2147.09H604.65ZM610.16 2708.4H615.67V2151.91H610.16ZM615.67 2708.4H621.18V2135.32H615.67ZM621.18 2708.4H626.69V2149.23H621.18ZM626.69 2708.4H632.2V2113.89H626.69ZM632.2 2708.4H637.71V2133.33H632.2ZM637.71 2708.4H643.22V2131.16H637.71ZM643.22 2708.4H648.73V2127.25H643.22ZM648.73 2708.4H654.24V2174.55H648.73ZM654.24 2708.4H659.75V2157.62H654.24ZM659.75 2708.4H665.26V2133.3H659.75ZM665.26 2708.4H670.77V2115.99H665.26ZM670.77 2708.4H676.28V2154.22H670.77ZM676.28 2708.4H681.79V2099.22H676.28ZM681.79 2708.4H687.3V2126.44H681.79ZM687.3 2708.4H692.81V2135.99H687.3ZM692.81 2708.4H698.32V2144.95H692.81ZM698.32 2708.4H703.83V2101.29H698.32ZM703.83 2708.4H709.34V2096.22H703.83ZM709.34 2708.4H714.85V2141.42H709.34ZM714.85 2708.4H720.36V2083.27H714.85ZM720.36 2708.4H725.87V2094.59H720.36ZM725.87 2708.4H731.38V2066.49H725.87ZM731.38 2708.4H736.89V2090.1H731.38ZM736.89 2708.4H742.4V2133.19H736.89ZM742.4 2708.4H747.91V2063.13H742.4ZM747.91 2708.4H753.43V2091.54H747.91ZM753.43 2708.4H758.94V2155.68H753.43ZM758.94 2708.4H764.45V2075.15H758.94ZM764.45 2708.4H769.96V2125.88H764.45ZM769.96 2708.4H775.47V2120.58H769.96ZM775.47 2708.4H780.98V2103.19H775.47ZM780.98 2708.4H786.49V2077.7H780.98ZM786.49 2708.4H792V2099.06H786.49ZM792 2708.4H797.51V2101.04H792ZM797.51 2708.4H803.02V2106.99H797.51ZM803.02 2708.4H808.53V2101.11H803.02ZM808.53 2708.4H814.04V2153.5H808.53ZM814.04 2708.4H819.55V2143.89H814.04ZM819.55 2708.4H825.06V2124.21H819.55ZM825.06 2708.4H830.57V2117.53H825.06ZM830.57 2708.4H836.08V2135.33H830.57ZM836.08 2708.4H841.59V2187.26H836.08ZM841.59 2708.4H847.1V2159.48H841.59ZM847.1 2708.4H852.61V2132.46H847.1ZM852.61 2708.4H858.12V2145.9H852.61ZM858.12 2708.4H863.63V2169.1H858.12ZM863.63 2708.4H869.14V2195.88H863.63ZM869.14 2708.4H874.65V2157.84H869.14ZM874.65 2708.4H880.16V2193.55H874.65ZM880.16 2708.4H885.67V2211.48H880.16ZM885.67 2708.4H891.18V2202.49H885.67ZM891.18 2708.4H896.69V2141.33H891.18ZM896.69 2708.4H902.2V2174.9H896.69ZM902.2 2708.4H907.71V2148.68H902.2ZM907.71 2708.4H913.22V2192.67H907.71ZM913.22 2708.4H918.73V2152.67H913.22ZM918.73 2708.4H924.24V2193.41H918.73ZM924.24 2708.4H929.75V2179.66H924.24ZM929.75 2708.4H935.26V2105.61H929.75ZM935.26 2708.4H940.77V2151.01H935.26ZM940.77 2708.4H946.28V2184.14H940.77ZM946.28 2708.4H951.79V2171.19H946.28ZM951.79 2708.4H957.3V2158.41H951.79ZM957.3 2708.4H962.81V2132.67H957.3ZM962.81 2708.4H968.33V2177.67H962.81ZM968.33 2708.4H973.84V2210.39H968.33ZM973.84 2708.4H979.35V2168.78H973.84ZM979.35 2708.4H984.86V2159.08H979.35ZM984.86 2708.4H990.37V2176.49H984.86ZM990.37 2708.4H995.88V2120.09H990.37ZM995.88 2708.4H1001.39V2145.74H995.88ZM1001.39 2708.4H1006.9V2130.39H1001.39ZM1006.9 2708.4H1012.41V2181H1006.9ZM1012.41 2708.4H1017.92V2125.25H1012.41ZM1017.92 2708.4H1023.43V2124.84H1017.92ZM1023.43 2708.4H1028.94V2129.58H1023.43ZM1028.94 2708.4H1034.45V2136.39H1028.94ZM1034.45 2708.4H1039.96V2160.49H1034.45ZM1039.96 2708.4H1045.47V2150.28H1039.96ZM1045.47 2708.4H1050.98V2162.71H1045.47ZM1050.98 2708.4H1056.49V2138.27H1050.98ZM1056.49 2708.4H1062V2162.12H1056.49ZM1062 2708.4H1067.51V2161.35H1062ZM1067.51 2708.4H1073.02V2156.55H1067.51ZM1073.02 2708.4H1078.53V2126.86H1073.02ZM1078.53 2708.4H1084.04V2165.81H1078.53ZM1084.04 2708.4H1089.55V2125.78H1084.04ZM1089.55 2708.4H1095.06V2193.18H1089.55ZM1095.06 2708.4H1100.57V2172.18H1095.06ZM1100.57 2708.4H1106.08V2172.54H1100.57ZM1106.08 2708.4H1111.59V2145.25H1106.08ZM1111.59 2708.4H1117.1V2139.93H1111.59ZM1117.1 2708.4H1122.61V2206.33H1117.1ZM1122.61 2708.4H1128.12V2188.65H1122.61ZM1128.12 2708.4H1133.63V2152.66H1128.12ZM1133.63 2708.4H1139.14V2177.93H1133.63ZM1139.14 2708.4H1144.65V2199.33H1139.14ZM1144.65 2708.4H1150.16V2126.73H1144.65ZM1150.16 2708.4H1155.67V2138.95H1150.16ZM1155.67 2708.4H1161.18V2136.08H1155.67ZM1161.18 2708.4H1166.69V2159.54H1161.18ZM1166.69 2708.4H1172.2V2115.12H1166.69ZM1172.2 2708.4H1177.71V2146.5H1172.2ZM1177.71 2708.4H1183.22V2106.42H1177.71ZM1183.22 2708.4H1188.74V2157.81H1183.22ZM1188.74 2708.4H1194.25V2152.56H1188.74ZM1194.25 2708.4H1199.76V2119.8H1194.25ZM1199.76 2708.4H1205.27V2140.81H1199.76ZM1205.27 2708.4H1210.78V2099.19H1205.27ZM1210.78 2708.4H1216.29V2106.61H1210.78ZM1216.29 2708.4H1221.8V2134.99H1216.29ZM1221.8 2708.4H1227.31V2103.62H1221.8ZM1227.31 2708.4H1232.82V2111.02H1227.31ZM1232.82 2708.4H1238.33V2100.88H1232.82ZM1238.33 2708.4H1243.84V2110.37H1238.33ZM1243.84 2708.4H1249.35V2111.51H1243.84ZM1249.35 2708.4H1254.86V2152.63H1249.35ZM1254.86 2708.4H1260.37V2065.95H1254.86ZM1260.37 2708.4H1265.88V2067.28H1260.37ZM1265.88 2708.4H1271.39V2077.76H1265.88ZM1271.39 2708.4H1276.9V2075.04H1271.39ZM1276.9 2708.4H1282.41V2043.45H1276.9ZM1282.41 2708.4H1287.92V2086.06H1282.41ZM1287.92 2708.4H1293.43V2113.57H1287.92ZM1293.43 2708.4H1298.94V2088.58H1293.43ZM1298.94 2708.4H1304.45V2084.51H1298.94ZM1304.45 2708.4H1309.96V2124.21H1304.45ZM1309.96 2708.4H1315.47V2150.15H1309.96ZM1315.47 2708.4H1320.98V2146.24H1315.47ZM1320.98 2708.4H1326.49V2088.22H1320.98ZM1326.49 2708.4H1332V2124.71H1326.49ZM1332 2708.4H1337.51V2103.81H1332ZM1337.51 2708.4H1343.02V2089.02H1337.51ZM1343.02 2708.4H1348.53V2072.07H1343.02ZM1348.53 2708.4H1354.04V2092H1348.53ZM1354.04 2708.4H1359.55V2062.92H1354.04ZM1359.55 2708.4H1365.06V2094.93H1359.55ZM1365.06 2708.4H1370.57V2074.99H1365.06ZM1370.57 2708.4H1376.08V2088.56H1370.57ZM1376.08 2708.4H1381.59V2063.23H1376.08ZM1381.59 2708.4H1387.1V2056.31H1381.59ZM1387.1 2708.4H1392.61V2076.26H1387.1ZM1392.61 2708.4H1398.12V2067.98H1392.61ZM1398.12 2708.4H1403.63V2068.13H1398.12ZM1403.63 2708.4H1409.14V2051.25H1403.63ZM1409.14 2708.4H1414.66V2115.95H1409.14ZM1414.66 2708.4H1420.17V2106.49H1414.66ZM1420.17 2708.4H1425.68V2094.35H1420.17ZM1425.68 2708.4H1431.19V2029.87H1425.68ZM1431.19 2708.4H1436.7V2068.75H1431.19ZM1436.7 2708.4H1442.21V2102.33H1436.7ZM1442.21 2708.4H1447.72V2082.93H1442.21ZM1447.72 2708.4H1453.23V2053.44H1447.72ZM1453.23 2708.4H1458.74V2110.23H1453.23ZM1458.74 2708.4H1464.25V2112.38H1458.74ZM1464.25 2708.4H1469.76V2066.66H1464.25ZM1469.76 2708.4H1475.27V2090.26H1469.76ZM1475.27 2708.4H1480.78V2074.44H1475.27ZM1480.78 2708.4H1486.29V2102.67H1480.78ZM1486.29 2708.4H1491.8V2146.12H1486.29ZM1491.8 2708.4H1497.31V2123.08H1491.8ZM1497.31 2708.4H1502.82V2082.39H1497.31ZM1502.82 2708.4H1508.33V2083.04H1502.82ZM1508.33 2708.4H1513.84V2126.53H1508.33ZM1513.84 2708.4H1519.35V2114.82H1513.84ZM1519.35 2708.4H1524.86V2104.49H1519.35ZM1524.86 2708.4H1530.37V2103.08H1524.86ZM1530.37 2708.4H1535.88V2127H1530.37ZM1535.88 2708.4H1541.39V2100.58H1535.88ZM1541.39 2708.4H1546.9V2194.36H1541.39ZM1546.9 2708.4H1552.41V2118.91H1546.9ZM1552.41 2708.4H1557.92V2168.33H1552.41ZM1557.92 2708.4H1563.43V2117.52H1557.92ZM1563.43 2708.4H1568.94V2153.8H1563.43ZM1568.94 2708.4H1574.45V2175.67H1568.94ZM1574.45 2708.4H1579.96V2164.99H1574.45ZM1579.96 2708.4H1585.47V2184H1579.96ZM1585.47 2708.4H1590.98V2187.98H1585.47ZM1590.98 2708.4H1596.49V2209.92H1590.98ZM1596.49 2708.4H1602V2171.85H1596.49ZM1602 2708.4H1607.51V2161.74H1602ZM1607.51 2708.4H1613.02V2165.82H1607.51ZM1613.02 2708.4H1618.53V2188H1613.02ZM1618.53 2708.4H1624.04V2159.94H1618.53ZM1624.04 2708.4H1629.55V2192.71H1624.04ZM1629.55 2708.4H1635.07V2200.37H1629.55ZM1635.07 2708.4H1640.58V2186.75H1635.07ZM1640.58 2708.4H1646.09V2178.12H1640.58ZM1646.09 2708.4H1651.6V2221.1H1646.09ZM1651.6 2708.4H1657.11V2223.06H1651.6ZM1657.11 2708.4H1662.62V2225.4H1657.11ZM1662.62 2708.4H1668.13V2223.3H1662.62ZM1668.13 2708.4H1673.64V2254.74H1668.13ZM1673.64 2708.4H1679.15V2206.39H1673.64ZM1679.15 2708.4H1684.66V2249.86H1679.15ZM1684.66 2708.4H1690.17V2232.58H1684.66ZM1690.17 2708.4H1695.68V2269.91H1690.17ZM1695.68 2708.4H1701.19V2241.51H1695.68ZM1701.19 2708.4H1706.7V2244.54H1701.19ZM1706.7 2708.4H1712.21V2270.61H1706.7ZM1712.21 2708.4H1717.72V2236.4H1712.21ZM1717.72 2708.4H1723.23V2289.26H1717.72ZM1723.23 2708.4H1728.74V2246.42H1723.23ZM1728.74 2708.4H1734.25V2302.7H1728.74ZM1734.25 2708.4H1739.76V2318.27H1734.25ZM1739.76 2708.4H1745.27V2339.44H1739.76ZM1745.27 2708.4H1750.78V2343.84H1745.27ZM1750.78 2708.4H1756.29V2372.91H1750.78ZM1756.29 2708.4H1761.8V2377.58H1756.29ZM1761.8 2708.4H1767.31V2418.87H1761.8ZM1767.31 2708.4H1772.82V2412.81H1767.31ZM1772.82 2708.4H1778.33V2352.99H1772.82ZM1778.33 2708.4H1783.84V2429.57H1778.33ZM1783.84 2708.4H1789.35V2445.72H1783.84ZM1789.35 2708.4H1794.86V2435.35H1789.35ZM1794.86 2708.4H1800.37V2440.4H1794.86ZM1800.37 2708.4H1805.88V2499.16H1800.37ZM1805.88 2708.4H1811.39V2478.41H1805.88ZM1811.39 2708.4H1816.9V2489.36H1811.39ZM1816.9 2708.4H1822.41V2505.79H1816.9ZM1822.41 2708.4H1827.92V2527.69H1822.41Z" fill="#dfa077" shape-rendering="crispEdges"/>
<path d="M417.3 2357.94H422.81V2346.98H417.3ZM422.81 2325.08H428.32V2292.22H422.81ZM428.32 2314.13H433.83V2270.32H428.32ZM433.83 2322.23H439.34V2200.56H433.83ZM439.34 2258.49H444.85V2179.2H439.34ZM444.85 2343.11H450.36V2228.56H444.85ZM450.36 2297.83H455.87V2240.35H450.36ZM455.87 2283.57H461.38V2215.72H455.87ZM461.38 2240.63H466.89V2225.14H461.38ZM466.89 2232.37H472.4V2223.39H466.89ZM472.4 2201.76H477.91V2199.2H472.4ZM477.91 2275.11H483.42V2220.68H477.91ZM483.42 2204.42H488.93V2170.05H483.42ZM488.93 2226.71H494.44V2184.04H488.93ZM494.44 2231.24H499.95V2168.94H494.44ZM499.95 2193.09H505.46V2175.46H499.95ZM505.46 2228.36H510.97V2185.11H505.46ZM510.97 2255.71H516.48V2186.02H510.97ZM516.48 2205.02H521.99V2161.57H516.48ZM521.99 2232.24H527.5V2165.27H521.99ZM527.5 2205.64H533.02V2139.22H527.5ZM533.02 2174.6H538.53V2141.34H533.02ZM544.04 2135.8H549.55V2131.4H544.04ZM549.55 2182.25H555.06V2166.51H549.55ZM555.06 2216.45H560.57V2143.52H555.06ZM560.57 2193H566.08V2132.03H560.57ZM566.08 2195.41H571.59V2178.53H566.08ZM571.59 2201.6H577.1V2117.31H571.59ZM577.1 2154.43H582.61V2114.09H577.1ZM582.61 2182.14H588.12V2121.24H582.61ZM588.12 2216.76H593.63V2127.45H588.12ZM593.63 2141.66H599.14V2125.2H593.63ZM599.14 2161.89H604.65V2141.02H599.14ZM604.65 2147.09H610.16V2121.14H604.65ZM610.16 2151.91H615.67V2128.49H610.16ZM615.67 2135.32H621.18V2110.57H615.67ZM621.18 2149.23H626.69V2145.84H621.18ZM626.69 2113.89H632.2V2106.28H626.69ZM632.2 2133.33H637.71V2108.7H632.2ZM637.71 2131.16H643.22V2116.4H637.71ZM643.22 2127.25H648.73V2124.44H643.22ZM648.73 2174.55H654.24V2097.14H648.73ZM659.75 2133.3H665.26V2099.11H659.75ZM665.26 2115.99H670.77V2104.6H665.26ZM670.77 2154.22H676.28V2102.84H670.77ZM687.3 2135.99H692.81V2114.23H687.3ZM692.81 2144.95H698.32V2088.06H692.81ZM698.32 2101.29H703.83V2091.95H698.32ZM720.36 2094.59H725.87V2064.03H720.36ZM731.38 2090.1H736.89V2085.88H731.38ZM780.98 2077.7H786.49V2052.34H780.98ZM792 2101.04H797.51V2083.21H792ZM797.51 2106.99H803.02V2044.19H797.51ZM803.02 2101.11H808.53V2049.16H803.02ZM808.53 2153.5H814.04V2095.36H808.53ZM814.04 2143.89H819.55V2097.46H814.04ZM819.55 2124.21H825.06V2122.19H819.55ZM825.06 2117.53H830.57V2102.31H825.06ZM830.57 2135.33H836.08V2066.39H830.57ZM836.08 2187.26H841.59V2061.32H836.08ZM841.59 2159.48H847.1V2062.85H841.59ZM847.1 2132.46H852.61V2032.15H847.1ZM852.61 2145.9H858.12V2074.05H852.61ZM858.12 2169.1H863.63V2048.12H858.12ZM863.63 2195.88H869.14V2020.6H863.63ZM869.14 2157.84H874.65V2019.21H869.14ZM874.65 2193.55H880.16V2001.22H874.65ZM880.16 2211.48H885.67V2016.01H880.16ZM885.67 2202.49H891.18V2032.94H885.67ZM891.18 2141.33H896.69V2013.69H891.18ZM896.69 2174.9H902.2V2051.79H896.69ZM902.2 2148.68H907.71V2071.29H902.2ZM907.71 2192.67H913.22V2013.65H907.71ZM913.22 2152.67H918.73V2035.08H913.22ZM918.73 2193.41H924.24V2029.83H918.73ZM924.24 2179.66H929.75V2089.96H924.24ZM929.75 2105.61H935.26V2059.02H929.75ZM935.26 2151.01H940.77V2071.15H935.26ZM940.77 2184.14H946.28V2084.07H940.77ZM946.28 2171.19H951.79V2127.62H946.28ZM951.79 2158.41H957.3V2080.24H951.79ZM957.3 2132.67H962.81V2051.51H957.3ZM962.81 2177.67H968.33V2070.55H962.81ZM968.33 2210.39H973.84V2102.31H968.33ZM973.84 2168.78H979.35V2091.17H973.84ZM979.35 2159.08H984.86V2075.03H979.35ZM990.37 2120.09H995.88V2109.7H990.37ZM995.88 2145.74H1001.39V2097.07H995.88ZM1001.39 2130.39H1006.9V2099.05H1001.39ZM1006.9 2181H1012.41V2076.78H1006.9ZM1012.41 2125.25H1017.92V2097.5H1012.41ZM1028.94 2136.39H1034.45V2120.4H1028.94ZM1045.47 2162.71H1050.98V2127.53H1045.47ZM1050.98 2138.27H1056.49V2101.6H1050.98ZM1111.59 2139.93H1117.1V2137.45H1111.59ZM1232.82 2100.88H1238.33V2072.1H1232.82ZM1243.84 2111.51H1249.35V2101.2H1243.84ZM1249.35 2152.63H1254.86V2052.51H1249.35ZM1254.86 2065.95H1260.37V2021.4H1254.86ZM1260.37 2067.28H1265.88V2025.67H1260.37ZM1265.88 2077.76H1271.39V2077.27H1265.88ZM1271.39 2075.04H1276.9V2072.73H1271.39ZM1276.9 2043.45H1282.41V2037.86H1276.9ZM1376.08 2063.23H1381.59V2026.2H1376.08ZM1403.63 2051.25H1409.14V2047.63H1403.63ZM1425.68 2029.87H1431.19V2020.38H1425.68ZM1447.72 2053.44H1453.23V2047.64H1447.72ZM1469.76 2090.26H1475.27V2083.06H1469.76ZM1486.29 2146.12H1491.8V2031.91H1486.29ZM1491.8 2123.08H1497.31V2033.72H1491.8ZM1497.31 2082.39H1502.82V2061.26H1497.31ZM1502.82 2083.04H1508.33V2054.78H1502.82ZM1513.84 2114.82H1519.35V2052.11H1513.84ZM1519.35 2104.49H1524.86V2074.67H1519.35ZM1524.86 2103.08H1530.37V2058.36H1524.86ZM1530.37 2127H1535.88V2053.35H1530.37ZM1535.88 2100.58H1541.39V2083.9H1535.88ZM1541.39 2194.36H1546.9V2123.94H1541.39ZM1546.9 2118.91H1552.41V2071.13H1546.9ZM1552.41 2168.33H1557.92V2105.38H1552.41ZM1557.92 2117.52H1563.43V2098.22H1557.92ZM1563.43 2153.8H1568.94V2109.96H1563.43ZM1568.94 2175.67H1574.45V2106.99H1568.94ZM1579.96 2184H1585.47V2072.31H1579.96ZM1585.47 2187.98H1590.98V2102.15H1585.47ZM1590.98 2209.92H1596.49V2081.52H1590.98ZM1596.49 2171.85H1602V2059.83H1596.49ZM1602 2161.74H1607.51V2114.83H1602ZM1613.02 2188H1618.53V2141.79H1613.02ZM1618.53 2159.94H1624.04V2151.26H1618.53ZM1624.04 2192.71H1629.55V2133.12H1624.04ZM1629.55 2200.37H1635.07V2118.77H1629.55ZM1635.07 2186.75H1640.58V2177.87H1635.07ZM1640.58 2178.12H1646.09V2116.4H1640.58ZM1646.09 2221.1H1651.6V2170.63H1646.09ZM1651.6 2223.06H1657.11V2125.53H1651.6ZM1657.11 2225.4H1662.62V2142.14H1657.11ZM1662.62 2223.3H1668.13V2154.45H1662.62ZM1668.13 2254.74H1673.64V2156.06H1668.13ZM1673.64 2206.39H1679.15V2178.5H1673.64ZM1679.15 2249.86H1684.66V2191.38H1679.15ZM1690.17 2269.91H1695.68V2200.03H1690.17ZM1695.68 2241.51H1701.19V2162.07H1695.68ZM1701.19 2244.54H1706.7V2172.33H1701.19ZM1706.7 2270.61H1712.21V2204.77H1706.7Z" fill="#98b4f0" shape-rendering="crispEdges"/>
<path d="M538.53 2174.38H544.04V2173.36H538.53ZM654.24 2157.62H659.75V2135.06H654.24ZM676.28 2099.22H681.79V2067.55H676.28ZM681.79 2126.44H687.3V2104.69H681.79ZM703.83 2096.22H709.34V2091.61H703.83ZM709.34 2141.42H714.85V2104.56H709.34ZM714.85 2083.27H720.36V2078.32H714.85ZM725.87 2066.49H731.38V2058.4H725.87ZM736.89 2133.19H742.4V2068.41H736.89ZM742.4 2063.13H747.91V2038H742.4ZM747.91 2091.54H753.43V1992.21H747.91ZM753.43 2155.68H758.94V2088.5H753.43ZM758.94 2075.15H764.45V2072.52H758.94ZM764.45 2125.88H769.96V2082.43H764.45ZM769.96 2120.58H775.47V2038.49H769.96ZM775.47 2103.19H780.98V2093H775.47ZM786.49 2099.06H792V2069.53H786.49ZM984.86 2176.49H990.37V2154.84H984.86ZM1017.92 2124.84H1023.43V2089.76H1017.92ZM1023.43 2129.58H1028.94V2124.1H1023.43ZM1034.45 2160.49H1039.96V2137.15H1034.45ZM1039.96 2150.28H1045.47V2090.44H1039.96ZM1056.49 2162.12H1062V2120.47H1056.49ZM1062 2161.35H1067.51V2110.52H1062ZM1067.51 2156.55H1073.02V2140.68H1067.51ZM1073.02 2126.86H1078.53V2118.12H1073.02ZM1078.53 2165.81H1084.04V2132.01H1078.53ZM1084.04 2125.78H1089.55V2119.02H1084.04ZM1089.55 2193.18H1095.06V2123.92H1089.55ZM1095.06 2172.18H1100.57V2149.65H1095.06ZM1100.57 2172.54H1106.08V2117.18H1100.57ZM1106.08 2145.25H1111.59V2090.93H1106.08ZM1117.1 2206.33H1122.61V2118.78H1117.1ZM1122.61 2188.65H1128.12V2092.93H1122.61ZM1128.12 2152.66H1133.63V2139.65H1128.12ZM1133.63 2177.93H1139.14V2104.81H1133.63ZM1139.14 2199.33H1144.65V2138.48H1139.14ZM1144.65 2126.73H1150.16V2078.17H1144.65ZM1150.16 2138.95H1155.67V2045.81H1150.16ZM1155.67 2136.08H1161.18V2053.73H1155.67ZM1161.18 2159.54H1166.69V2115.12H1161.18ZM1166.69 2115.12H1172.2V2088.89H1166.69ZM1172.2 2146.5H1177.71V2105.87H1172.2ZM1177.71 2106.42H1183.22V2106.38H1177.71ZM1183.22 2157.81H1188.74V2066.74H1183.22ZM1188.74 2152.56H1194.25V2145.1H1188.74ZM1194.25 2119.8H1199.76V2079.84H1194.25ZM1199.76 2140.81H1205.27V2109.7H1199.76ZM1205.27 2099.19H1210.78V2069.26H1205.27ZM1210.78 2106.61H1216.29V2101.99H1210.78ZM1216.29 2134.99H1221.8V2124.61H1216.29ZM1221.8 2103.62H1227.31V2097.45H1221.8ZM1227.31 2111.02H1232.82V2083.46H1227.31ZM1238.33 2110.37H1243.84V2086.39H1238.33ZM1282.41 2086.06H1287.92V2079.15H1282.41ZM1287.92 2113.57H1293.43V2080.81H1287.92ZM1293.43 2088.58H1298.94V2061.57H1293.43ZM1298.94 2084.51H1304.45V2018.97H1298.94ZM1304.45 2124.21H1309.96V2084.93H1304.45ZM1309.96 2150.15H1315.47V2010.13H1309.96ZM1315.47 2146.24H1320.98V2056.58H1315.47ZM1320.98 2088.22H1326.49V2066.17H1320.98ZM1326.49 2124.71H1332V1999.28H1326.49ZM1332 2103.81H1337.51V2035.16H1332ZM1337.51 2089.02H1343.02V2068.02H1337.51ZM1343.02 2072.07H1348.53V2043.51H1343.02ZM1348.53 2092H1354.04V2010.42H1348.53ZM1354.04 2062.92H1359.55V2005.73H1354.04ZM1359.55 2094.93H1365.06V2052.22H1359.55ZM1365.06 2074.99H1370.57V2031.26H1365.06ZM1370.57 2088.56H1376.08V2024.49H1370.57ZM1381.59 2056.31H1387.1V2037.32H1381.59ZM1387.1 2076.26H1392.61V2049.37H1387.1ZM1392.61 2067.98H1398.12V2064.65H1392.61ZM1398.12 2068.13H1403.63V2064.97H1398.12ZM1409.14 2115.95H1414.66V2053.93H1409.14ZM1414.66 2106.49H1420.17V2072H1414.66ZM1420.17 2094.35H1425.68V2070.04H1420.17ZM1431.19 2068.75H1436.7V2056.59H1431.19ZM1436.7 2102.33H1442.21V2040.44H1436.7ZM1442.21 2082.93H1447.72V2034.14H1442.21ZM1453.23 2110.23H1458.74V2010.08H1453.23ZM1458.74 2112.38H1464.25V2097.73H1458.74ZM1464.25 2066.66H1469.76V2056.09H1464.25ZM1475.27 2074.44H1480.78V2034.26H1475.27ZM1480.78 2102.67H1486.29V2042.22H1480.78ZM1508.33 2126.53H1513.84V2088.61H1508.33ZM1574.45 2164.99H1579.96V2144.93H1574.45ZM1607.51 2165.82H1613.02V2151.67H1607.51ZM1684.66 2232.58H1690.17V2230.5H1684.66ZM1712.21 2236.4H1717.72V2207.51H1712.21ZM1717.72 2289.26H1723.23V2256.35H1717.72ZM1723.23 2246.42H1728.74V2221.44H1723.23ZM1728.74 2302.7H1734.25V2247.36H1728.74ZM1734.25 2318.27H1739.76V2295.2H1734.25ZM1739.76 2339.44H1745.27V2290.92H1739.76ZM1745.27 2343.84H1750.78V2271.85H1745.27ZM1750.78 2372.91H1756.29V2285.38H1750.78ZM1756.29 2377.58H1761.8V2288.92H1756.29ZM1761.8 2418.87H1767.31V2301.28H1761.8ZM1767.31 2412.81H1772.82V2346.1H1767.31ZM1772.82 2352.99H1778.33V2305.86H1772.82ZM1778.33 2429.57H1783.84V2363.52H1778.33ZM1783.84 2445.72H1789.35V2295.73H1783.84ZM1789.35 2435.35H1794.86V2328.97H1789.35ZM1794.86 2440.4H1800.37V2331.97H1794.86ZM1800.37 2499.16H1805.88V2321.85H1800.37ZM1805.88 2478.41H1811.39V2314.13H1805.88ZM1811.39 2489.36H1816.9V2336.03H1811.39ZM1816.9 2505.79H1822.41V2330.56H1816.9ZM1822.41 2527.69H1827.92V2346.98H1822.41Z" fill="#ffc47b" shape-rendering="crispEdges"/>
<line x1="402.9" y1="2708.4" x2="402.9" y2="1951.5" stroke="#b0b0b0" stroke-width="2.6" stroke-dasharray="14.3 6.84" stroke-dashoffset="2.04"/>
<line x1="690.9" y1="2708.4" x2="690.9" y2="1951.5" stroke="#b0b0b0" stroke-width="2.6" stroke-dasharray="14.3 6.84" stroke-dashoffset="2.04"/>
<line x1="978.9" y1="2708.4" x2="978.9" y2="1951.5" stroke="#b0b0b0" stroke-width="2.6" stroke-dasharray="14.3 6.84" stroke-dashoffset="2.04"/>
<line x1="1266.9" y1="2708.4" x2="1266.9" y2="1951.5" stroke="#b0b0b0" stroke-width="2.6" stroke-dasharray="14.3 6.84" stroke-dashoffset="2.04"/>
<line x1="1554.9" y1="2708.4" x2="1554.9" y2="1951.5" stroke="#b0b0b0" stroke-width="2.6" stroke-dasharray="14.3 6.84" stroke-dashoffset="2.04"/>
<line x1="1842.9" y1="2708.4" x2="1842.9" y2="1951.5" stroke="#b0b0b0" stroke-width="2.6" stroke-dasharray="14.3 6.84" stroke-dashoffset="2.04"/>
<line x1="347.3" y1="2708.4" x2="1898.6" y2="2708.4" stroke="#b0b0b0" stroke-width="3" stroke-dasharray="11.8 5.55" stroke-dashoffset="0"/>
<line x1="347.3" y1="2571.5" x2="1898.6" y2="2571.5" stroke="#b0b0b0" stroke-width="3" stroke-dasharray="11.8 5.55" stroke-dashoffset="0"/>
<line x1="347.3" y1="2434.6" x2="1898.6" y2="2434.6" stroke="#b0b0b0" stroke-width="3" stroke-dasharray="11.8 5.55" stroke-dashoffset="0"/>
<line x1="347.3" y1="2297.7" x2="1898.6" y2="2297.7" stroke="#b0b0b0" stroke-width="3" stroke-dasharray="11.8 5.55" stroke-dashoffset="0"/>
<line x1="347.3" y1="2160.8" x2="1898.6" y2="2160.8" stroke="#b0b0b0" stroke-width="3" stroke-dasharray="11.8 5.55" stroke-dashoffset="0"/>
<line x1="347.3" y1="2023.9" x2="1898.6" y2="2023.9" stroke="#b0b0b0" stroke-width="3" stroke-dasharray="11.8 5.55" stroke-dashoffset="0"/>
<polyline points="418.02,2244.03 420.04,2242.73 422.05,2241.41 424.07,2240.04 426.09,2238.64 428.1,2237.21 430.12,2235.74 432.14,2234.25 434.15,2232.72 436.17,2231.17 438.19,2229.59 440.21,2227.98 442.22,2226.34 444.24,2224.68 446.26,2223 448.27,2221.3 450.29,2219.58 452.31,2217.84 454.32,2216.08 456.34,2214.3 458.36,2212.51 460.37,2210.7 462.39,2208.88 464.41,2207.05 466.42,2205.21 468.44,2203.36 470.46,2201.5 472.47,2199.63 474.49,2197.76 476.51,2195.88 478.52,2194 480.54,2192.12 482.56,2190.23 484.58,2188.35 486.59,2186.46 488.61,2184.58 490.63,2182.7 492.64,2180.83 494.66,2178.96 496.68,2177.1 498.69,2175.25 500.71,2173.41 502.73,2171.58 504.74,2169.76 506.76,2167.96 508.78,2166.17 510.79,2164.39 512.81,2162.63 514.83,2160.89 516.84,2159.17 518.86,2157.47 520.88,2155.79 522.89,2154.13 524.91,2152.5 526.93,2150.89 528.95,2149.31 530.96,2147.76 532.98,2146.23 535,2144.74 537.01,2143.28 539.03,2141.85 541.05,2140.45 543.06,2139.09 545.08,2137.76 547.1,2136.47 549.11,2135.22 551.13,2134.01 553.15,2132.84 555.16,2131.71 557.18,2130.63 559.2,2129.59 561.21,2128.59 563.23,2127.64 565.25,2126.73 567.26,2125.86 569.28,2125.03 571.3,2124.24 573.32,2123.49 575.33,2122.77 577.35,2122.09 579.37,2121.45 581.38,2120.84 583.4,2120.26 585.42,2119.71 587.43,2119.19 589.45,2118.7 591.47,2118.24 593.48,2117.8 595.5,2117.39 597.52,2117.01 599.53,2116.64 601.55,2116.3 603.57,2115.98 605.58,2115.68 607.6,2115.4 609.62,2115.13 611.64,2114.88 613.65,2114.65 615.67,2114.43 617.69,2114.22 619.7,2114.03 621.72,2113.84 623.74,2113.67 625.75,2113.5 627.77,2113.34 629.79,2113.18 631.8,2113.03 633.82,2112.89 635.84,2112.74 637.85,2112.6 639.87,2112.46 641.89,2112.32 643.9,2112.17 645.92,2112.03 647.94,2111.87 649.95,2111.72 651.97,2111.55 653.99,2111.38 656.01,2111.2 658.02,2111.01 660.04,2110.81 662.06,2110.59 664.07,2110.36 666.09,2110.12 668.11,2109.86 670.12,2109.59 672.14,2109.3 674.16,2108.99 676.17,2108.65 678.19,2108.3 680.21,2107.92 682.22,2107.52 684.24,2107.1 686.26,2106.66 688.27,2106.2 690.29,2105.72 692.31,2105.22 694.32,2104.71 696.34,2104.19 698.36,2103.65 700.38,2103.1 702.39,2102.54 704.41,2101.97 706.43,2101.39 708.44,2100.81 710.46,2100.22 712.48,2099.63 714.49,2099.04 716.51,2098.44 718.53,2097.85 720.54,2097.25 722.56,2096.66 724.58,2096.08 726.59,2095.5 728.61,2094.93 730.63,2094.36 732.64,2093.81 734.66,2093.26 736.68,2092.73 738.7,2092.22 740.71,2091.71 742.73,2091.23 744.75,2090.76 746.76,2090.31 748.78,2089.88 750.8,2089.47 752.81,2089.08 754.83,2088.72 756.85,2088.39 758.86,2088.08 760.88,2087.8 762.9,2087.54 764.91,2087.32 766.93,2087.13 768.95,2086.98 770.96,2086.86 772.98,2086.77 775,2086.73 777.01,2086.72 779.03,2086.75 781.05,2086.81 783.07,2086.89 785.08,2086.99 787.1,2087.09 789.12,2087.19 791.13,2087.27 793.15,2087.34 795.17,2087.38 797.18,2087.38 799.2,2087.33 801.22,2087.23 803.23,2087.07 805.25,2086.83 807.27,2086.52 809.28,2086.12 811.3,2085.62 813.32,2085.01 815.33,2084.29 817.35,2083.46 819.37,2082.51 821.38,2081.47 823.4,2080.32 825.42,2079.09 827.44,2077.78 829.45,2076.39 831.47,2074.93 833.49,2073.42 835.5,2071.84 837.52,2070.23 839.54,2068.57 841.55,2066.88 843.57,2065.16 845.59,2063.42 847.6,2061.68 849.62,2059.92 851.64,2058.17 853.65,2056.43 855.67,2054.7 857.69,2053 859.7,2051.33 861.72,2049.69 863.74,2048.1 865.75,2046.55 867.77,2045.07 869.79,2043.65 871.81,2042.3 873.82,2041.03 875.84,2039.85 877.86,2038.76 879.87,2037.77 881.89,2036.89 883.91,2036.12 885.92,2035.47 887.94,2034.94 889.96,2034.56 891.97,2034.31 893.99,2034.21 896.01,2034.25 898.02,2034.42 900.04,2034.72 902.06,2035.15 904.07,2035.7 906.09,2036.35 908.11,2037.12 910.13,2037.98 912.14,2038.95 914.16,2040 916.18,2041.14 918.19,2042.36 920.21,2043.65 922.23,2045.02 924.24,2046.44 926.26,2047.93 928.28,2049.46 930.29,2051.05 932.31,2052.67 934.33,2054.33 936.34,2056.02 938.36,2057.74 940.38,2059.48 942.39,2061.23 944.41,2062.99 946.43,2064.75 948.44,2066.51 950.46,2068.27 952.48,2070.03 954.5,2071.79 956.51,2073.54 958.53,2075.3 960.55,2077.06 962.56,2078.82 964.58,2080.58 966.6,2082.34 968.61,2084.11 970.63,2085.88 972.65,2087.65 974.66,2089.43 976.68,2091.21 978.7,2093.01 980.71,2094.8 982.73,2096.61 984.75,2098.42 986.76,2100.24 988.78,2102.07 990.8,2103.91 992.81,2105.76 994.83,2107.62 996.85,2109.5 998.87,2111.37 1000.88,2113.25 1002.9,2115.12 1004.92,2116.97 1006.93,2118.8 1008.95,2120.61 1010.97,2122.39 1012.98,2124.13 1015,2125.83 1017.02,2127.51 1019.03,2129.14 1021.05,2130.74 1023.07,2132.3 1025.08,2133.83 1027.1,2135.32 1029.12,2136.77 1031.13,2138.18 1033.15,2139.56 1035.17,2140.91 1037.18,2142.21 1039.2,2143.48 1041.22,2144.71 1043.24,2145.9 1045.25,2147.05 1047.27,2148.17 1049.29,2149.24 1051.3,2150.28 1053.32,2151.28 1055.34,2152.24 1057.35,2153.16 1059.37,2154.04 1061.39,2154.88 1063.4,2155.68 1065.42,2156.45 1067.44,2157.17 1069.45,2157.85 1071.47,2158.49 1073.49,2159.09 1075.5,2159.65 1077.52,2160.17 1079.54,2160.65 1081.56,2161.08 1083.57,2161.48 1085.59,2161.83 1087.61,2162.14 1089.62,2162.41 1091.64,2162.64 1093.66,2162.82 1095.67,2162.96 1097.69,2163.06 1099.71,2163.11 1101.72,2163.13 1103.74,2163.09 1105.76,2163.02 1107.77,2162.9 1109.79,2162.74 1111.81,2162.53 1113.82,2162.28 1115.84,2161.99 1117.86,2161.65 1119.87,2161.28 1121.89,2160.86 1123.91,2160.4 1125.93,2159.91 1127.94,2159.37 1129.96,2158.8 1131.98,2158.2 1133.99,2157.56 1136.01,2156.88 1138.03,2156.18 1140.04,2155.44 1142.06,2154.66 1144.08,2153.86 1146.09,2153.03 1148.11,2152.17 1150.13,2151.28 1152.14,2150.36 1154.16,2149.42 1156.18,2148.45 1158.19,2147.46 1160.21,2146.44 1162.23,2145.4 1164.24,2144.34 1166.26,2143.26 1168.28,2142.16 1170.3,2141.04 1172.31,2139.9 1174.33,2138.75 1176.35,2137.57 1178.36,2136.38 1180.38,2135.18 1182.4,2133.96 1184.41,2132.73 1186.43,2131.49 1188.45,2130.24 1190.46,2128.98 1192.48,2127.7 1194.5,2126.42 1196.51,2125.13 1198.53,2123.83 1200.55,2122.53 1202.56,2121.22 1204.58,2119.91 1206.6,2118.6 1208.62,2117.28 1210.63,2115.96 1212.65,2114.64 1214.67,2113.32 1216.68,2112 1218.7,2110.69 1220.72,2109.37 1222.73,2108.07 1224.75,2106.76 1226.77,2105.46 1228.78,2104.17 1230.8,2102.89 1232.82,2101.62 1234.83,2100.37 1236.85,2099.15 1238.87,2097.96 1240.88,2096.79 1242.9,2095.66 1244.92,2094.58 1246.93,2093.53 1248.95,2092.54 1250.97,2091.59 1252.99,2090.7 1255,2089.88 1257.02,2089.12 1259.04,2088.42 1261.05,2087.8 1263.07,2087.26 1265.09,2086.8 1267.1,2086.42 1269.12,2086.13 1271.14,2085.94 1273.15,2085.84 1275.17,2085.85 1277.19,2085.96 1279.2,2086.19 1281.22,2086.52 1283.24,2086.97 1285.25,2087.53 1287.27,2088.17 1289.29,2088.89 1291.3,2089.67 1293.32,2090.48 1295.34,2091.33 1297.36,2092.18 1299.37,2093.03 1301.39,2093.87 1303.41,2094.66 1305.42,2095.41 1307.44,2096.09 1309.46,2096.69 1311.47,2097.2 1313.49,2097.59 1315.51,2097.86 1317.52,2097.98 1319.54,2097.95 1321.56,2097.76 1323.57,2097.41 1325.59,2096.92 1327.61,2096.3 1329.62,2095.55 1331.64,2094.69 1333.66,2093.73 1335.67,2092.68 1337.69,2091.54 1339.71,2090.33 1341.73,2089.07 1343.74,2087.74 1345.76,2086.38 1347.78,2084.98 1349.79,2083.57 1351.81,2082.14 1353.83,2080.71 1355.84,2079.28 1357.86,2077.88 1359.88,2076.51 1361.89,2075.17 1363.91,2073.88 1365.93,2072.65 1367.94,2071.49 1369.96,2070.41 1371.98,2069.42 1373.99,2068.53 1376.01,2067.74 1378.03,2067.08 1380.05,2066.54 1382.06,2066.15 1384.08,2065.9 1386.1,2065.82 1388.11,2065.89 1390.13,2066.12 1392.15,2066.48 1394.16,2066.99 1396.18,2067.61 1398.2,2068.35 1400.21,2069.19 1402.23,2070.12 1404.25,2071.14 1406.26,2072.24 1408.28,2073.39 1410.3,2074.61 1412.31,2075.87 1414.33,2077.16 1416.35,2078.49 1418.36,2079.82 1420.38,2081.17 1422.4,2082.51 1424.42,2083.84 1426.43,2085.15 1428.45,2086.43 1430.47,2087.66 1432.48,2088.84 1434.5,2089.97 1436.52,2091.02 1438.53,2091.99 1440.55,2092.87 1442.57,2093.66 1444.58,2094.33 1446.6,2094.89 1448.62,2095.31 1450.63,2095.61 1452.65,2095.78 1454.67,2095.83 1456.68,2095.76 1458.7,2095.59 1460.72,2095.33 1462.73,2094.97 1464.75,2094.52 1466.77,2094 1468.79,2093.41 1470.8,2092.76 1472.82,2092.05 1474.84,2091.29 1476.85,2090.49 1478.87,2089.65 1480.89,2088.79 1482.9,2087.9 1484.92,2087 1486.94,2086.09 1488.95,2085.18 1490.97,2084.28 1492.99,2083.39 1495,2082.53 1497.02,2081.69 1499.04,2080.88 1501.05,2080.12 1503.07,2079.41 1505.09,2078.75 1507.1,2078.15 1509.12,2077.63 1511.14,2077.18 1513.16,2076.82 1515.17,2076.54 1517.19,2076.37 1519.21,2076.29 1521.22,2076.32 1523.24,2076.44 1525.26,2076.65 1527.27,2076.95 1529.29,2077.33 1531.31,2077.79 1533.32,2078.32 1535.34,2078.93 1537.36,2079.6 1539.37,2080.34 1541.39,2081.14 1543.41,2081.99 1545.42,2082.9 1547.44,2083.85 1549.46,2084.85 1551.48,2085.89 1553.49,2086.97 1555.51,2088.08 1557.53,2089.21 1559.54,2090.38 1561.56,2091.56 1563.58,2092.76 1565.59,2093.98 1567.61,2095.2 1569.63,2096.43 1571.64,2097.66 1573.66,2098.89 1575.68,2100.11 1577.69,2101.33 1579.71,2102.53 1581.73,2103.71 1583.74,2104.87 1585.76,2106 1587.78,2107.11 1589.79,2108.18 1591.81,2109.22 1593.83,2110.21 1595.85,2111.16 1597.86,2112.07 1599.88,2112.93 1601.9,2113.77 1603.91,2114.57 1605.93,2115.36 1607.95,2116.13 1609.96,2116.9 1611.98,2117.66 1614,2118.43 1616.01,2119.21 1618.03,2120.01 1620.05,2120.83 1622.06,2121.69 1624.08,2122.58 1626.1,2123.51 1628.11,2124.49 1630.13,2125.53 1632.15,2126.62 1634.16,2127.77 1636.18,2128.99 1638.2,2130.29 1640.22,2131.66 1642.23,2133.11 1644.25,2134.64 1646.27,2136.27 1648.28,2137.99 1650.3,2139.82 1652.32,2141.74 1654.33,2143.78 1656.35,2145.93 1658.37,2148.2 1660.38,2150.59 1662.4,2153.11 1664.42,2155.77 1666.43,2158.56 1668.45,2161.49 1670.47,2164.57 1672.48,2167.79 1674.5,2171.14 1676.52,2174.63 1678.54,2178.24 1680.55,2181.97 1682.57,2185.81 1684.59,2189.76 1686.6,2193.81 1688.62,2197.96 1690.64,2202.21 1692.65,2206.54 1694.67,2210.96 1696.69,2215.46 1698.7,2220.03 1700.72,2224.68 1702.74,2229.39 1704.75,2234.16 1706.77,2238.99 1708.79,2243.88 1710.8,2248.81 1712.82,2253.79 1714.84,2258.81 1716.85,2263.86 1718.87,2268.95 1720.89,2274.06 1722.91,2279.19 1724.92,2284.34 1726.94,2289.51 1728.96,2294.68 1730.97,2299.86 1732.99,2305.04 1735.01,2310.22 1737.02,2315.38 1739.04,2320.54 1741.06,2325.67 1743.07,2330.79 1745.09,2335.88 1747.11,2340.95 1749.12,2345.98 1751.14,2350.98 1753.16,2355.94 1755.17,2360.86 1757.19,2365.73 1759.21,2370.55 1761.22,2375.31 1763.24,2380.02 1765.26,2384.66 1767.28,2389.24 1769.29,2393.76 1771.31,2398.19 1773.33,2402.56 1775.34,2406.84 1777.36,2411.03 1779.38,2415.14 1781.39,2419.16 1783.41,2423.08 1785.43,2426.9 1787.44,2430.62 1789.46,2434.24 1791.48,2437.74 1793.49,2441.13 1795.51,2444.4 1797.53,2447.54 1799.54,2450.57 1801.56,2453.46 1803.58,2456.22 1805.59,2458.84 1807.61,2461.32 1809.63,2463.66 1811.65,2465.85 1813.66,2467.89 1815.68,2469.77 1817.7,2471.5 1819.71,2473.06 1821.73,2474.45 1823.75,2475.67 1825.76,2476.72 1827.78,2477.59" fill="none" stroke="#0000ff" stroke-width="3.4" stroke-linejoin="round" stroke-linecap="round"/>
<polyline points="416.58,2312.06 418.6,2311.41 420.62,2310.54 422.64,2309.47 424.66,2308.21 426.67,2306.76 428.69,2305.13 430.71,2303.34 432.73,2301.4 434.75,2299.32 436.77,2297.1 438.79,2294.77 440.81,2292.32 442.83,2289.77 444.84,2287.12 446.86,2284.4 448.88,2281.61 450.9,2278.76 452.92,2275.86 454.94,2272.92 456.96,2269.96 458.98,2266.97 461,2263.98 463.01,2260.99 465.03,2258.02 467.05,2255.07 469.07,2252.16 471.09,2249.29 473.11,2246.47 475.13,2243.72 477.15,2241.04 479.17,2238.43 481.18,2235.89 483.2,2233.42 485.22,2231 487.24,2228.66 489.26,2226.37 491.28,2224.15 493.3,2221.98 495.32,2219.87 497.34,2217.82 499.35,2215.83 501.37,2213.88 503.39,2211.99 505.41,2210.15 507.43,2208.36 509.45,2206.62 511.47,2204.92 513.49,2203.27 515.51,2201.67 517.52,2200.11 519.54,2198.59 521.56,2197.11 523.58,2195.67 525.6,2194.27 527.62,2192.91 529.64,2191.59 531.66,2190.3 533.68,2189.04 535.69,2187.82 537.71,2186.63 539.73,2185.46 541.75,2184.33 543.77,2183.23 545.79,2182.15 547.81,2181.1 549.83,2180.07 551.85,2179.06 553.86,2178.08 555.88,2177.12 557.9,2176.17 559.92,2175.25 561.94,2174.34 563.96,2173.45 565.98,2172.57 568,2171.71 570.02,2170.86 572.03,2170.01 574.05,2169.18 576.07,2168.36 578.09,2167.55 580.11,2166.74 582.13,2165.93 584.15,2165.13 586.17,2164.34 588.19,2163.54 590.2,2162.75 592.22,2161.95 594.24,2161.15 596.26,2160.35 598.28,2159.54 600.3,2158.73 602.32,2157.91 604.34,2157.08 606.36,2156.24 608.37,2155.4 610.39,2154.54 612.41,2153.66 614.43,2152.78 616.45,2151.87 618.47,2150.95 620.49,2150.02 622.51,2149.06 624.53,2148.08 626.54,2147.09 628.56,2146.06 630.58,2145.02 632.6,2143.95 634.62,2142.85 636.64,2141.73 638.66,2140.58 640.68,2139.4 642.7,2138.18 644.71,2136.94 646.73,2135.66 648.75,2134.35 650.77,2133.01 652.79,2131.64 654.81,2130.24 656.83,2128.83 658.85,2127.38 660.86,2125.92 662.88,2124.44 664.9,2122.94 666.92,2121.43 668.94,2119.91 670.96,2118.37 672.98,2116.82 675,2115.27 677.02,2113.71 679.03,2112.15 681.05,2110.58 683.07,2109.02 685.09,2107.46 687.11,2105.9 689.13,2104.34 691.15,2102.8 693.17,2101.26 695.19,2099.74 697.2,2098.23 699.22,2096.73 701.24,2095.25 703.26,2093.79 705.28,2092.35 707.3,2090.93 709.32,2089.54 711.34,2088.17 713.36,2086.83 715.37,2085.53 717.39,2084.25 719.41,2083.01 721.43,2081.8 723.45,2080.63 725.47,2079.5 727.49,2078.41 729.51,2077.36 731.53,2076.36 733.54,2075.41 735.56,2074.51 737.58,2073.65 739.6,2072.85 741.62,2072.1 743.64,2071.41 745.66,2070.78 747.68,2070.21 749.7,2069.7 751.71,2069.26 753.73,2068.89 755.75,2068.59 757.77,2068.37 759.79,2068.24 761.81,2068.19 763.83,2068.23 765.85,2068.36 767.87,2068.6 769.88,2068.93 771.9,2069.37 773.92,2069.92 775.94,2070.58 777.96,2071.36 779.98,2072.26 782,2073.29 784.02,2074.44 786.04,2075.73 788.05,2077.14 790.07,2078.67 792.09,2080.31 794.11,2082.06 796.13,2083.91 798.15,2085.85 800.17,2087.89 802.19,2090 804.21,2092.19 806.22,2094.45 808.24,2096.78 810.26,2099.16 812.28,2101.59 814.3,2104.07 816.32,2106.59 818.34,2109.13 820.36,2111.71 822.38,2114.3 824.39,2116.91 826.41,2119.52 828.43,2122.14 830.45,2124.75 832.47,2127.35 834.49,2129.94 836.51,2132.49 838.53,2135.02 840.55,2137.52 842.56,2139.97 844.58,2142.37 846.6,2144.71 848.62,2147 850.64,2149.22 852.66,2151.36 854.68,2153.43 856.7,2155.41 858.72,2157.29 860.73,2159.08 862.75,2160.77 864.77,2162.34 866.79,2163.82 868.81,2165.19 870.83,2166.46 872.85,2167.64 874.87,2168.72 876.89,2169.72 878.9,2170.62 880.92,2171.44 882.94,2172.18 884.96,2172.84 886.98,2173.42 889,2173.93 891.02,2174.36 893.04,2174.73 895.06,2175.03 897.07,2175.27 899.09,2175.44 901.11,2175.56 903.13,2175.62 905.15,2175.63 907.17,2175.59 909.19,2175.5 911.21,2175.37 913.23,2175.2 915.24,2174.98 917.26,2174.73 919.28,2174.45 921.3,2174.14 923.32,2173.79 925.34,2173.43 927.36,2173.03 929.38,2172.62 931.4,2172.19 933.41,2171.75 935.43,2171.29 937.45,2170.83 939.47,2170.36 941.49,2169.88 943.51,2169.39 945.53,2168.9 947.55,2168.41 949.57,2167.9 951.58,2167.39 953.6,2166.88 955.62,2166.36 957.64,2165.83 959.66,2165.3 961.68,2164.76 963.7,2164.22 965.72,2163.67 967.74,2163.11 969.75,2162.55 971.77,2161.99 973.79,2161.42 975.81,2160.84 977.83,2160.26 979.85,2159.67 981.87,2159.08 983.89,2158.48 985.91,2157.88 987.92,2157.27 989.94,2156.66 991.96,2156.04 993.98,2155.42 996,2154.8 998.02,2154.17 1000.04,2153.53 1002.06,2152.89 1004.08,2152.25 1006.09,2151.6 1008.11,2150.94 1010.13,2150.29 1012.15,2149.62 1014.17,2148.96 1016.19,2148.29 1018.21,2147.61 1020.23,2146.94 1022.25,2146.25 1024.26,2145.57 1026.28,2144.88 1028.3,2144.18 1030.32,2143.49 1032.34,2142.79 1034.36,2142.08 1036.38,2141.37 1038.4,2140.66 1040.42,2139.95 1042.43,2139.23 1044.45,2138.5 1046.47,2137.78 1048.49,2137.05 1050.51,2136.32 1052.53,2135.58 1054.55,2134.85 1056.57,2134.11 1058.59,2133.37 1060.6,2132.62 1062.62,2131.88 1064.64,2131.14 1066.66,2130.4 1068.68,2129.66 1070.7,2128.92 1072.72,2128.19 1074.74,2127.46 1076.76,2126.74 1078.77,2126.02 1080.79,2125.31 1082.81,2124.61 1084.83,2123.91 1086.85,2123.23 1088.87,2122.55 1090.89,2121.89 1092.91,2121.24 1094.93,2120.59 1096.94,2119.97 1098.96,2119.35 1100.98,2118.75 1103,2118.17 1105.02,2117.6 1107.04,2117.05 1109.06,2116.51 1111.08,2115.99 1113.1,2115.5 1115.11,2115.02 1117.13,2114.56 1119.15,2114.13 1121.17,2113.71 1123.19,2113.32 1125.21,2112.96 1127.23,2112.62 1129.25,2112.3 1131.26,2112 1133.28,2111.72 1135.3,2111.47 1137.32,2111.23 1139.34,2111.01 1141.36,2110.81 1143.38,2110.62 1145.4,2110.45 1147.42,2110.29 1149.43,2110.14 1151.45,2110 1153.47,2109.87 1155.49,2109.75 1157.51,2109.63 1159.53,2109.52 1161.55,2109.42 1163.57,2109.32 1165.59,2109.22 1167.6,2109.12 1169.62,2109.02 1171.64,2108.93 1173.66,2108.82 1175.68,2108.72 1177.7,2108.61 1179.72,2108.49 1181.74,2108.37 1183.76,2108.24 1185.77,2108.1 1187.79,2107.95 1189.81,2107.78 1191.83,2107.6 1193.85,2107.41 1195.87,2107.21 1197.89,2106.98 1199.91,2106.74 1201.93,2106.48 1203.94,2106.2 1205.96,2105.9 1207.98,2105.58 1210,2105.23 1212.02,2104.86 1214.04,2104.46 1216.06,2104.03 1218.08,2103.58 1220.1,2103.09 1222.11,2102.58 1224.13,2102.03 1226.15,2101.45 1228.17,2100.84 1230.19,2100.19 1232.21,2099.5 1234.23,2098.78 1236.25,2098.01 1238.27,2097.21 1240.28,2096.37 1242.3,2095.48 1244.32,2094.55 1246.34,2093.57 1248.36,2092.55 1250.38,2091.48 1252.4,2090.36 1254.42,2089.19 1256.44,2087.98 1258.45,2086.71 1260.47,2085.4 1262.49,2084.04 1264.51,2082.65 1266.53,2081.23 1268.55,2079.77 1270.57,2078.29 1272.59,2076.78 1274.61,2075.26 1276.62,2073.72 1278.64,2072.17 1280.66,2070.61 1282.68,2069.05 1284.7,2067.49 1286.72,2065.93 1288.74,2064.38 1290.76,2062.84 1292.78,2061.32 1294.79,2059.81 1296.81,2058.33 1298.83,2056.87 1300.85,2055.44 1302.87,2054.05 1304.89,2052.69 1306.91,2051.38 1308.93,2050.11 1310.95,2048.89 1312.96,2047.72 1314.98,2046.61 1317,2045.56 1319.02,2044.58 1321.04,2043.66 1323.06,2042.81 1325.08,2042.04 1327.1,2041.34 1329.12,2040.73 1331.13,2040.21 1333.15,2039.77 1335.17,2039.43 1337.19,2039.19 1339.21,2039.05 1341.23,2039.02 1343.25,2039.09 1345.27,2039.26 1347.29,2039.52 1349.3,2039.85 1351.32,2040.23 1353.34,2040.64 1355.36,2041.09 1357.38,2041.54 1359.4,2041.99 1361.42,2042.45 1363.44,2042.91 1365.46,2043.37 1367.47,2043.84 1369.49,2044.31 1371.51,2044.79 1373.53,2045.28 1375.55,2045.77 1377.57,2046.26 1379.59,2046.76 1381.61,2047.27 1383.63,2047.79 1385.64,2048.31 1387.66,2048.84 1389.68,2049.38 1391.7,2049.93 1393.72,2050.49 1395.74,2051.05 1397.76,2051.63 1399.78,2052.22 1401.8,2052.81 1403.81,2053.42 1405.83,2054.04 1407.85,2054.67 1409.87,2055.32 1411.89,2055.97 1413.91,2056.64 1415.93,2057.32 1417.95,2058.02 1419.97,2058.73 1421.98,2059.45 1424,2060.19 1426.02,2060.94 1428.04,2061.71 1430.06,2062.49 1432.08,2063.29 1434.1,2064.11 1436.12,2064.94 1438.14,2065.79 1440.15,2066.66 1442.17,2067.55 1444.19,2068.46 1446.21,2069.38 1448.23,2070.32 1450.25,2071.28 1452.27,2072.27 1454.29,2073.27 1456.31,2074.29 1458.32,2075.34 1460.34,2076.4 1462.36,2077.49 1464.38,2078.6 1466.4,2079.73 1468.42,2080.89 1470.44,2082.06 1472.46,2083.26 1474.48,2084.48 1476.49,2085.72 1478.51,2086.98 1480.53,2088.26 1482.55,2089.55 1484.57,2090.86 1486.59,2092.19 1488.61,2093.53 1490.63,2094.88 1492.65,2096.25 1494.66,2097.62 1496.68,2099.01 1498.7,2100.41 1500.72,2101.81 1502.74,2103.23 1504.76,2104.65 1506.78,2106.07 1508.8,2107.5 1510.82,2108.93 1512.83,2110.37 1514.85,2111.81 1516.87,2113.25 1518.89,2114.69 1520.91,2116.13 1522.93,2117.57 1524.95,2119 1526.97,2120.43 1528.99,2121.86 1531,2123.28 1533.02,2124.7 1535.04,2126.12 1537.06,2127.53 1539.08,2128.95 1541.1,2130.35 1543.12,2131.76 1545.14,2133.17 1547.16,2134.58 1549.17,2135.98 1551.19,2137.39 1553.21,2138.79 1555.23,2140.2 1557.25,2141.61 1559.27,2143.02 1561.29,2144.43 1563.31,2145.84 1565.33,2147.26 1567.34,2148.68 1569.36,2150.11 1571.38,2151.53 1573.4,2152.97 1575.42,2154.4 1577.44,2155.85 1579.46,2157.3 1581.48,2158.75 1583.5,2160.21 1585.51,2161.68 1587.53,2163.15 1589.55,2164.64 1591.57,2166.13 1593.59,2167.63 1595.61,2169.13 1597.63,2170.65 1599.65,2172.18 1601.66,2173.71 1603.68,2175.26 1605.7,2176.82 1607.72,2178.39 1609.74,2179.96 1611.76,2181.55 1613.78,2183.14 1615.8,2184.74 1617.82,2186.35 1619.83,2187.97 1621.85,2189.59 1623.87,2191.22 1625.89,2192.85 1627.91,2194.49 1629.93,2196.13 1631.95,2197.77 1633.97,2199.42 1635.99,2201.07 1638,2202.72 1640.02,2204.37 1642.04,2206.03 1644.06,2207.68 1646.08,2209.33 1648.1,2210.99 1650.12,2212.64 1652.14,2214.29 1654.16,2215.93 1656.17,2217.57 1658.19,2219.21 1660.21,2220.85 1662.23,2222.48 1664.25,2224.11 1666.27,2225.73 1668.29,2227.34 1670.31,2228.95 1672.33,2230.54 1674.34,2232.14 1676.36,2233.72 1678.38,2235.29 1680.4,2236.85 1682.42,2238.41 1684.44,2239.95 1686.46,2241.48 1688.48,2243 1690.5,2244.51 1692.51,2246.01 1694.53,2247.49 1696.55,2248.96 1698.57,2250.43 1700.59,2251.88 1702.61,2253.32 1704.63,2254.74 1706.65,2256.16 1708.67,2257.57 1710.68,2258.96 1712.7,2260.35 1714.72,2261.72 1716.74,2263.09 1718.76,2264.44 1720.78,2265.79 1722.8,2267.12 1724.82,2268.45 1726.84,2269.76 1728.85,2271.07 1730.87,2272.37 1732.89,2273.66 1734.91,2274.94 1736.93,2276.21 1738.95,2277.47 1740.97,2278.73 1742.99,2279.97 1745.01,2281.21 1747.02,2282.44 1749.04,2283.66 1751.06,2284.88 1753.08,2286.08 1755.1,2287.28 1757.12,2288.48 1759.14,2289.66 1761.16,2290.84 1763.18,2292.01 1765.19,2293.18 1767.21,2294.33 1769.23,2295.49 1771.25,2296.63 1773.27,2297.77 1775.29,2298.91 1777.31,2300.03 1779.33,2301.16 1781.35,2302.27 1783.36,2303.39 1785.38,2304.49 1787.4,2305.59 1789.42,2306.69 1791.44,2307.78 1793.46,2308.87 1795.48,2309.95 1797.5,2311.03 1799.52,2312.1 1801.53,2313.17 1803.55,2314.24 1805.57,2315.3 1807.59,2316.36 1809.61,2317.41 1811.63,2318.47 1813.65,2319.52 1815.67,2320.56 1817.69,2321.6 1819.7,2322.64 1821.72,2323.68 1823.74,2324.72 1825.76,2325.75 1827.78,2326.78" fill="none" stroke="#b40000" stroke-width="3.4" stroke-linejoin="round" stroke-linecap="round"/>
<rect x="347.3" y="1951.5" width="1551.3" height="756.9" fill="none" stroke="#888888" stroke-width="2.6"/>
<line x1="402.9" y1="2708.4" x2="402.9" y2="2714.9" stroke="#888888" stroke-width="2.2"/>
<line x1="690.9" y1="2708.4" x2="690.9" y2="2714.9" stroke="#888888" stroke-width="2.2"/>
<line x1="978.9" y1="2708.4" x2="978.9" y2="2714.9" stroke="#888888" stroke-width="2.2"/>
<line x1="1266.9" y1="2708.4" x2="1266.9" y2="2714.9" stroke="#888888" stroke-width="2.2"/>
<line x1="1554.9" y1="2708.4" x2="1554.9" y2="2714.9" stroke="#888888" stroke-width="2.2"/>
<line x1="1842.9" y1="2708.4" x2="1842.9" y2="2714.9" stroke="#888888" stroke-width="2.2"/>
<line x1="341.3" y1="2708.4" x2="347.3" y2="2708.4" stroke="#888888" stroke-width="2.6"/>
<line x1="341.3" y1="2571.5" x2="347.3" y2="2571.5" stroke="#888888" stroke-width="2.6"/>
<line x1="341.3" y1="2434.6" x2="347.3" y2="2434.6" stroke="#888888" stroke-width="2.6"/>
<line x1="341.3" y1="2297.7" x2="347.3" y2="2297.7" stroke="#888888" stroke-width="2.6"/>
<line x1="341.3" y1="2160.8" x2="347.3" y2="2160.8" stroke="#888888" stroke-width="2.6"/>
<line x1="341.3" y1="2023.9" x2="347.3" y2="2023.9" stroke="#888888" stroke-width="2.6"/>
<text transform="translate(377.16 2755.6) scale(0.7920 1)" font-size="52" text-anchor="start" font-weight="bold" >0.0</text>
<text transform="translate(665.26 2755.6) scale(0.7920 1)" font-size="52" text-anchor="start" font-weight="bold" >0.2</text>
<text transform="translate(952.76 2755.6) scale(0.7920 1)" font-size="52" text-anchor="start" font-weight="bold" >0.4</text>
<text transform="translate(1240.98 2755.6) scale(0.7920 1)" font-size="52" text-anchor="start" font-weight="bold" >0.6</text>
<text transform="translate(1529.06 2755.6) scale(0.7920 1)" font-size="52" text-anchor="start" font-weight="bold" >0.8</text>
<text transform="translate(1816.3 2755.6) scale(0.7920 1)" font-size="52" text-anchor="start" font-weight="bold" >1.0</text>
<text transform="translate(264 2725.3) scale(0.7920 1)" font-size="52" text-anchor="start" font-weight="bold" >0.00</text>
<text transform="translate(263.94 2588.4) scale(0.7920 1)" font-size="52" text-anchor="start" font-weight="bold" >0.25</text>
<text transform="translate(264 2451.5) scale(0.7920 1)" font-size="52" text-anchor="start" font-weight="bold" >0.50</text>
<text transform="translate(263.94 2314.6) scale(0.7920 1)" font-size="52" text-anchor="start" font-weight="bold" >0.75</text>
<text transform="translate(264 2177.7) scale(0.7920 1)" font-size="52" text-anchor="start" font-weight="bold" >1.00</text>
<text transform="translate(263.94 2040.8) scale(0.7920 1)" font-size="52" text-anchor="start" font-weight="bold" >1.25</text>
<text transform="translate(951.92 2814) scale(0.8179 1)" font-size="59.5" text-anchor="start" font-weight="bold" >Grayscale Value</text>
<text transform="translate(247.51 2473.8) scale(0.8207 1) rotate(-90)" font-size="58.67" text-anchor="start" font-weight="bold" >Probability</text>
<rect x="1356.3" y="1977.2" width="522.5" height="155.3" rx="7" ry="7" fill="#fff" fill-opacity="0.8" stroke="#d6d6d6" stroke-width="2"/>
<rect x="1372.4" y="1996.7" width="81.5" height="34.7" fill="#ffc47b"/>
<text transform="translate(1488.88 2031.5) scale(0.8220 1)" font-size="49.5" text-anchor="start" font-weight="bold" >uniform noise image</text>
<rect x="1372.4" y="2067.1" width="81.5" height="34.1" fill="#91aeee"/>
<text transform="translate(1487.5 2101.2) scale(0.8260 1)" font-size="49.5" text-anchor="start" font-weight="bold" >Gaussian noise image</text>
</g>
<text transform="translate(667.3 960.3) scale(0.8393 1)" font-size="78" text-anchor="start" font-weight="bold" >Gaussian noise vs. uniform noise</text>
<text transform="translate(483.3 1935.5) scale(0.8397 1)" font-size="78" text-anchor="start" font-weight="bold" >Gaussian noise image vs. uniform noise image</text>
</g>
</svg></body></html>
